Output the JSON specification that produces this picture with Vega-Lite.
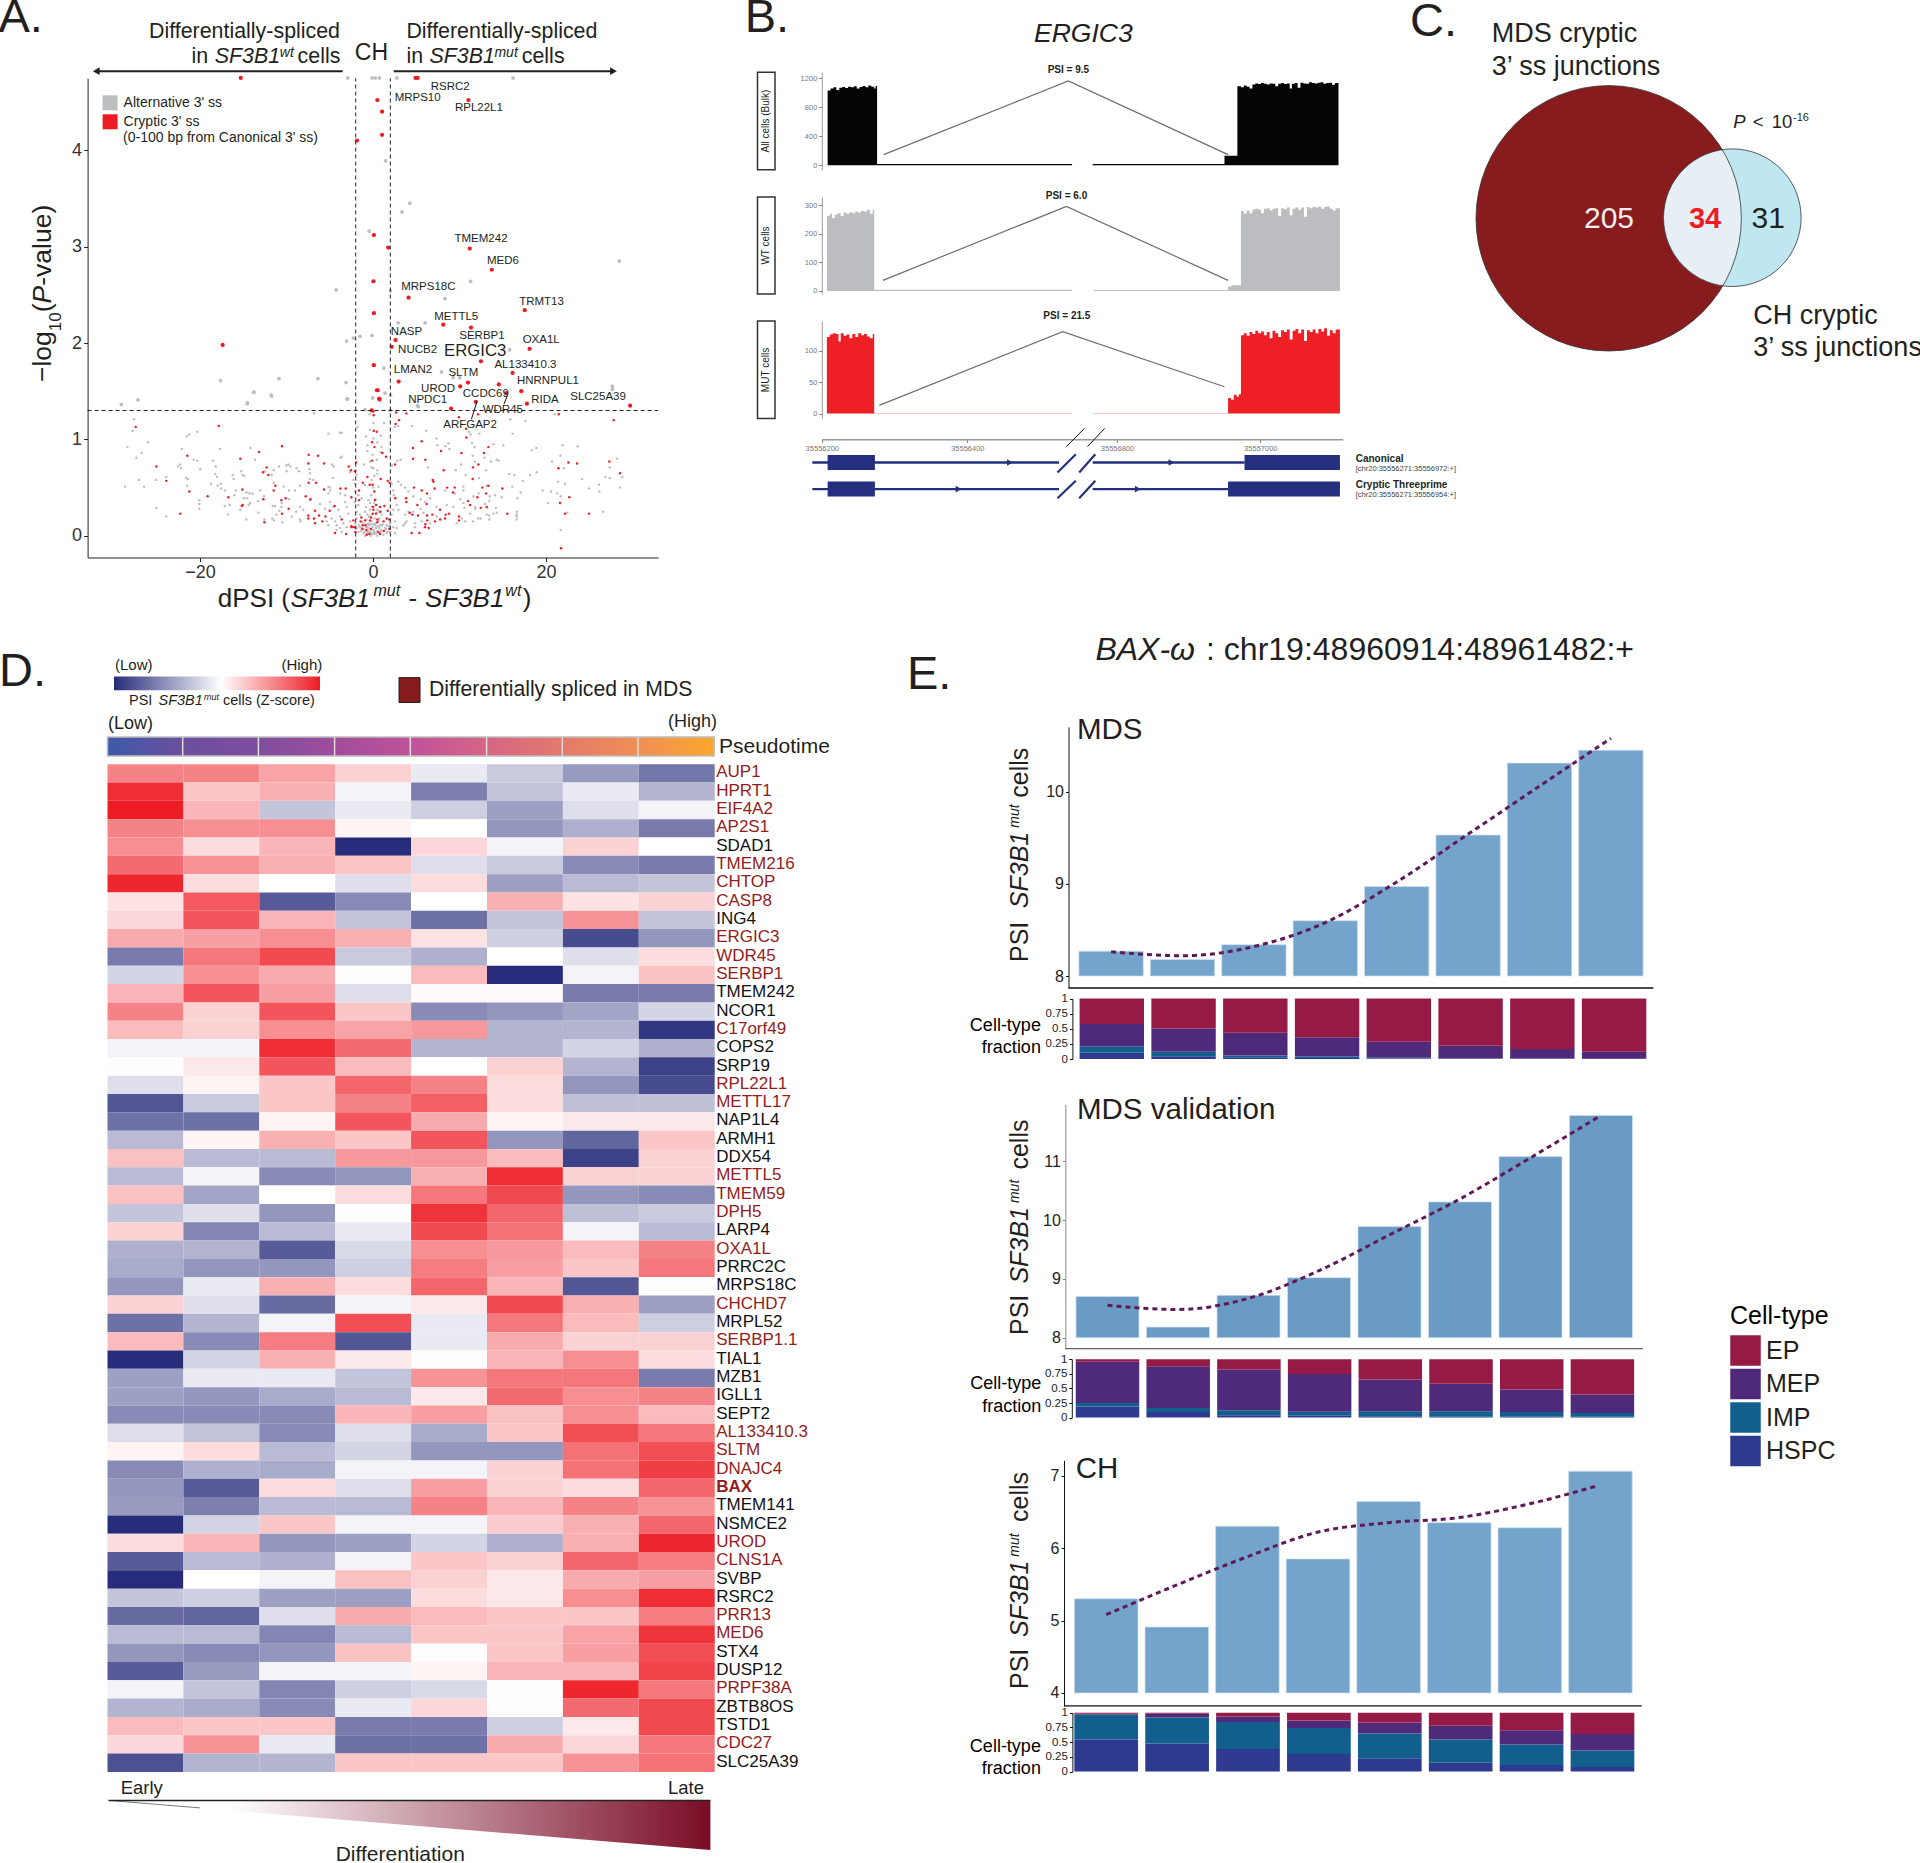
{"$schema":"https://vega.github.io/schema/vega-lite/v6.json","background":"white","padding":0,"width":1920,"height":1863,"autosize":{"type":"none"},
"config":{"font":"Liberation Sans","view":{"stroke":null},"axis":{"grid":false,"titleFontWeight":"normal"},"text":{"color":"#231f20"}},
"datasets":{
"alt":[{"x":-2.91,"y":4.75},{"x":-0.1,"y":4.75},{"x":0.25,"y":4.75},{"x":0.75,"y":4.75},{"x":2.76,"y":4.75},{"x":16.19,"y":4.75},{"x":1.45,"y":3.89},{"x":4.26,"y":3.45},{"x":3.36,"y":3.36},{"x":28.47,"y":2.85},{"x":-0.45,"y":3.16},{"x":2.0,"y":2.54},{"x":11.28,"y":2.64},{"x":8.32,"y":2.46},{"x":-4.26,"y":2.55},{"x":2.91,"y":2.21},{"x":6.02,"y":2.21},{"x":-0.1,"y":2.08},{"x":-3.06,"y":2.02},{"x":-1.5,"y":2.07},{"x":-2.26,"y":2.05},{"x":15.79,"y":1.93},{"x":1.25,"y":1.74},{"x":7.92,"y":1.7},{"x":9.27,"y":1.64},{"x":10.03,"y":1.64},{"x":5.26,"y":1.34},{"x":-17.64,"y":1.61},{"x":-10.88,"y":1.63},{"x":-6.37,"y":1.63},{"x":-13.78,"y":1.49},{"x":-11.78,"y":1.46},{"x":-14.54,"y":1.37},{"x":-3.11,"y":1.59},{"x":-3.01,"y":1.42},{"x":27.67,"y":1.55},{"x":27.67,"y":1.52},{"x":-0.4,"y":1.26},
{"x":-29.1,"y":1.36},{"x":-27.17,"y":1.41},{"x":-27.63,"y":1.21},{"x":-27.79,"y":1.09},{"x":-28.4,"y":0.92},{"x":-26.0,"y":0.97},{"x":-26.75,"y":0.86},{"x":-27.36,"y":0.81},{"x":-21.54,"y":1.03},{"x":-21.27,"y":1.05},{"x":-20.31,"y":1.08},{"x":-22.08,"y":0.9},{"x":-22.31,"y":0.74},{"x":-22.55,"y":0.72},{"x":-22.2,"y":0.7},{"x":-23.9,"y":0.61},{"x":-27.05,"y":0.58},{"x":-25.05,"y":0.58},{"x":-28.67,"y":0.51},{"x":-26.48,"y":0.51},{"x":-21.62,"y":0.6},{"x":-21.39,"y":0.59},{"x":-21.5,"y":0.52},{"x":-20.73,"y":0.79},{"x":-20.31,"y":0.78},{"x":-19.96,"y":0.69},{"x":-18.5,"y":0.78},{"x":-18.19,"y":0.72},{"x":-18.23,"y":0.64},{"x":-18.04,"y":0.61},{"x":-17.69,"y":0.9},{"x":-18.73,"y":0.54},{"x":-17.96,"y":0.52},{"x":-17.61,"y":0.54},{"x":-17.57,"y":0.49},{"x":-17.11,"y":0.47},{"x":-20.08,"y":0.37},{"x":-20.08,"y":0.33},{"x":-20.08,"y":0.28},{"x":-25.05,"y":0.29},{"x":-23.9,"y":0.2},{"x":-17.15,"y":0.31},{"x":-16.57,"y":0.32},{"x":-16.76,"y":0.22},{"x":-16.23,"y":0.63},{"x":-16.11,"y":0.59},{"x":-16.03,"y":0.42},{"x":-15.84,"y":0.47},{"x":-15.26,"y":0.67},{"x":-15.07,"y":0.63},{"x":-14.88,"y":0.62},{"x":-14.91,"y":0.39},{"x":-14.53,"y":0.39},{"x":-14.61,"y":0.45},{"x":-14.3,"y":0.44},{"x":-13.95,"y":0.44},{"x":-14.22,"y":0.34},{"x":-14.37,"y":0.32},{"x":-15.34,"y":0.27},{"x":-14.65,"y":0.17},{"x":-14.18,"y":0.91},{"x":-13.64,"y":0.79},{"x":-13.06,"y":0.47},{"x":-13.3,"y":0.36},{"x":-12.6,"y":0.41},{"x":-13.26,"y":0.24},{"x":-12.56,"y":0.17},{"x":-11.64,"y":0.18},{"x":-11.45,"y":0.16},{"x":-10.48,"y":0.14},{"x":-11.6,"y":0.31},{"x":-11.33,"y":0.31},{"x":-10.83,"y":0.26},{"x":-10.6,"y":0.3},{"x":-10.56,"y":0.34},{"x":-11.18,"y":0.22},{"x":-9.71,"y":0.38},{"x":-10.33,"y":0.51},{"x":-9.71,"y":0.47},{"x":-11.48,"y":0.55},{"x":-11.72,"y":0.63},{"x":-12.49,"y":0.67},{"x":-11.48,"y":0.68},{"x":-10.87,"y":0.72},{"x":-10.02,"y":0.73},{"x":-9.79,"y":0.74},{"x":-9.98,"y":0.67},{"x":-14.53,"y":1.38},{"x":-13.8,"y":1.49},{"x":-11.72,"y":1.45},
{"x":-2.93,"y":1.42},{"x":1.39,"y":1.48},{"x":2.04,"y":1.46},{"x":0.81,"y":1.4},{"x":-0.04,"y":1.43},{"x":-0.92,"y":1.31},{"x":-6.82,"y":1.27},{"x":2.0,"y":1.3},{"x":5.13,"y":1.35},{"x":0.04,"y":1.17},{"x":1.27,"y":1.17},{"x":-5.16,"y":1.06},{"x":-3.81,"y":1.07},{"x":-3.62,"y":1.07},{"x":-1.77,"y":1.13},{"x":-0.35,"y":1.1},{"x":-0.81,"y":1.03},{"x":0.04,"y":1.01},{"x":0.89,"y":1.04},{"x":4.51,"y":1.14},{"x":6.13,"y":1.09},{"x":2.54,"y":1.13},{"x":2.93,"y":1.14},{"x":7.36,"y":1.01},{"x":7.44,"y":0.94},{"x":8.36,"y":0.93},{"x":8.71,"y":0.96},{"x":8.83,"y":0.9},{"x":11.45,"y":0.96},{"x":11.72,"y":0.92},{"x":-0.65,"y":0.94},{"x":-0.65,"y":0.88},{"x":0.5,"y":0.97},{"x":0.97,"y":0.92},{"x":0.89,"y":0.87},{"x":-0.04,"y":0.84},{"x":0.43,"y":0.79},{"x":-0.35,"y":0.77},{"x":-1.04,"y":0.74},{"x":-3.62,"y":0.82},{"x":-3.74,"y":0.81},{"x":-4.74,"y":0.74},{"x":-4.55,"y":0.72},{"x":-2.66,"y":0.66},{"x":-1.89,"y":0.63},{"x":-0.19,"y":0.71},{"x":0.5,"y":0.68},{"x":0.5,"y":0.64},{"x":3.2,"y":0.79},{"x":2.81,"y":0.78},{"x":2.16,"y":0.73},{"x":6.36,"y":0.71},{"x":9.56,"y":0.68},{"x":13.07,"y":0.68},{"x":-9.56,"y":0.72},{"x":-8.82,"y":0.7},{"x":-7.36,"y":0.69},{"x":-7.28,"y":0.65},{"x":-7.32,"y":0.59},{"x":-8.55,"y":0.67},{"x":-9.02,"y":0.47},{"x":-8.44,"y":0.52},{"x":-5.16,"y":0.51},{"x":-4.97,"y":0.5},{"x":-6.9,"y":0.58},{"x":-4.66,"y":0.6},{"x":-2.27,"y":0.58},{"x":-2.08,"y":0.54},{"x":-0.92,"y":0.53},{"x":0.62,"y":0.51},{"x":2.16,"y":0.54},{"x":2.35,"y":0.47},{"x":2.43,"y":0.42},{"x":3.24,"y":0.53},{"x":3.7,"y":0.5},{"x":4.09,"y":0.46},{"x":2.93,"y":0.56},{"x":4.66,"y":0.41},{"x":5.51,"y":0.38},{"x":6.01,"y":0.35},{"x":6.59,"y":0.39},{"x":8.33,"y":0.47},{"x":9.48,"y":0.44},{"x":10.45,"y":0.51},{"x":-5.16,"y":0.44},{"x":-4.97,"y":0.47},{"x":-3.81,"y":0.44},{"x":-3.23,"y":0.42},{"x":-4.97,"y":0.35},{"x":-3.23,"y":0.35},{"x":-2.08,"y":0.46},{"x":-1.7,"y":0.42},{"x":-8.44,"y":0.3},{"x":-8.05,"y":0.27},{"x":-8.9,"y":0.25},{"x":-9.4,"y":0.2},{"x":-8.36,"y":0.15},{"x":-8.44,"y":0.17},{"x":-7.28,"y":0.37},{"x":-6.13,"y":0.33},{"x":-5.55,"y":0.28},{"x":-4.58,"y":0.3},{"x":-4.0,"y":0.27},{"x":-3.04,"y":0.3},{"x":-2.08,"y":0.35},{"x":-1.31,"y":0.39},{"x":-0.54,"y":0.37},{"x":-0.35,"y":0.34},{"x":-0.81,"y":0.3},{"x":-0.92,"y":0.25},{"x":-1.7,"y":0.32},{"x":-1.89,"y":0.25},{"x":-2.85,"y":0.23},{"x":-3.81,"y":0.2},{"x":-4.78,"y":0.18},{"x":-5.36,"y":0.15},{"x":-5.16,"y":0.11},{"x":-4.39,"y":0.15},{"x":-4.2,"y":0.11},{"x":-3.81,"y":0.08},{"x":-3.43,"y":0.13},{"x":-3.04,"y":0.09},{"x":-2.66,"y":0.15},{"x":-1.89,"y":0.18},{"x":-1.5,"y":0.22},{"x":-0.35,"y":0.27},{"x":0.12,"y":0.34},{"x":0.5,"y":0.27},{"x":1.0,"y":0.22},{"x":0.73,"y":0.18},{"x":-0.15,"y":0.15},{"x":-0.54,"y":0.13},{"x":0.23,"y":0.11},{"x":1.0,"y":0.11},{"x":1.58,"y":0.11},{"x":1.97,"y":0.13},{"x":2.54,"y":0.15},{"x":2.35,"y":0.09},{"x":2.74,"y":0.08},{"x":1.97,"y":0.04},{"x":2.54,"y":0.03},{"x":1.58,"y":0.03},{"x":1.2,"y":0.01},{"x":0.23,"y":0.02},{"x":-0.15,"y":0.03},{"x":-1.12,"y":0.03},{"x":-1.7,"y":0.04},{"x":-1.89,"y":0.08},{"x":-1.5,"y":0.09},{"x":-0.73,"y":0.09},{"x":-0.35,"y":0.04},{"x":0.04,"y":0.06},{"x":0.35,"y":0.08},{"x":0.73,"y":0.08},{"x":-0.54,"y":0.08},{"x":-0.92,"y":0.04},{"x":0.5,"y":0.0},{"x":-0.92,"y":0.0},{"x":-4.2,"y":0.06},{"x":-3.62,"y":0.04},{"x":3.7,"y":0.13},{"x":3.89,"y":0.15},{"x":3.51,"y":0.11},{"x":4.86,"y":0.13},{"x":4.86,"y":0.09},{"x":5.63,"y":0.15},{"x":6.59,"y":0.13},{"x":4.09,"y":0.25},{"x":4.66,"y":0.25},{"x":5.51,"y":0.28},{"x":5.82,"y":0.24},{"x":3.7,"y":0.22},{"x":2.74,"y":0.32},{"x":2.93,"y":0.27},{"x":2.35,"y":0.27},{"x":2.16,"y":0.22},{"x":9.68,"y":0.13},{"x":10.64,"y":0.15},{"x":10.25,"y":0.18},{"x":11.22,"y":0.23},{"x":11.8,"y":0.3},{"x":8.52,"y":0.32},{"x":9.29,"y":0.3},{"x":7.36,"y":0.3},{"x":7.36,"y":0.2},{"x":10.45,"y":0.34},{"x":12.18,"y":0.18},{"x":13.14,"y":0.22},{"x":11.6,"y":0.41},{"x":10.45,"y":0.47},{"x":-0.42,"y":0.11},{"x":-0.04,"y":0.09},{"x":-0.27,"y":0.0},{"x":0.12,"y":0.03},{"x":-0.65,"y":0.03},{"x":0.5,"y":0.05},{"x":0.89,"y":0.04},{"x":1.39,"y":0.08},{"x":-1.31,"y":0.08},{"x":-2.08,"y":0.13},
{"x":-1.4,"y":0.05},{"x":-1.1,"y":0.07},{"x":-0.95,"y":0.12},{"x":-0.6,"y":0.05},{"x":-0.5,"y":0.12},{"x":-0.3,"y":0.07},{"x":-0.2,"y":0.12},{"x":-0.1,"y":0.02},{"x":0.05,"y":0.12},{"x":0.15,"y":0.05},{"x":0.3,"y":0.13},{"x":0.4,"y":0.03},{"x":0.55,"y":0.1},{"x":0.65,"y":0.16},{"x":0.8,"y":0.11},{"x":0.95,"y":0.06},{"x":1.1,"y":0.12},{"x":1.3,"y":0.05},{"x":1.5,"y":0.07},{"x":1.7,"y":0.04},{"x":1.85,"y":0.1},{"x":-1.65,"y":0.11},{"x":-1.25,"y":0.14},{"x":-0.75,"y":0.17},{"x":-0.45,"y":0.2},{"x":-0.1,"y":0.22},{"x":0.2,"y":0.18},{"x":0.4,"y":0.24},{"x":0.7,"y":0.25},{"x":-0.65,"y":0.22},{"x":0.1,"y":0.3},{"x":0.3,"y":0.38},{"x":-0.2,"y":0.42},{"x":0.0,"y":0.5},{"x":0.15,"y":0.62},{"x":-0.15,"y":0.58},{"x":0.05,"y":0.7},
{"x":21.04,"y":1.26},{"x":15.88,"y":1.21},{"x":17.61,"y":1.19},{"x":16.15,"y":1.06},{"x":13.91,"y":0.95},{"x":15.07,"y":0.94},{"x":11.52,"y":0.83},{"x":11.76,"y":0.77},{"x":12.91,"y":0.81},{"x":13.64,"y":0.77},{"x":14.3,"y":0.79},{"x":14.53,"y":0.78},{"x":18.35,"y":0.89},{"x":18.89,"y":0.91},{"x":21.93,"y":0.94},{"x":23.66,"y":0.93},{"x":21.66,"y":0.83},{"x":20.7,"y":0.77},{"x":22.05,"y":0.7},{"x":15.76,"y":0.64},{"x":16.34,"y":0.63},{"x":18.15,"y":0.63},{"x":18.92,"y":0.66},{"x":12.26,"y":0.6},{"x":10.72,"y":0.63},{"x":10.18,"y":0.74},{"x":17.31,"y":0.57},{"x":16.11,"y":0.51},{"x":17.07,"y":0.45},{"x":19.62,"y":0.47},{"x":20.58,"y":0.46},{"x":21.31,"y":0.44},{"x":21.39,"y":0.56},{"x":22.2,"y":0.54},{"x":21.7,"y":0.41},{"x":20.2,"y":0.34},{"x":16.69,"y":0.39},{"x":14.88,"y":0.4},{"x":14.11,"y":0.42},{"x":13.49,"y":0.41},{"x":12.22,"y":0.44},{"x":13.14,"y":0.52},{"x":12.95,"y":0.33},{"x":13.45,"y":0.36},{"x":13.22,"y":0.29},{"x":14.22,"y":0.29},{"x":13.91,"y":0.23},{"x":14.3,"y":0.24},{"x":13.41,"y":0.21},{"x":13.45,"y":0.17},{"x":12.45,"y":0.18},{"x":11.56,"y":0.15},{"x":11.83,"y":0.28},{"x":10.56,"y":0.29},{"x":10.1,"y":0.38},{"x":16.61,"y":0.25},{"x":16.61,"y":0.22},{"x":16.61,"y":0.2},{"x":16.61,"y":0.17},{"x":21.7,"y":0.06},{"x":22.47,"y":0.24},{"x":24.17,"y":0.59},{"x":24.97,"y":0.49},{"x":26.13,"y":0.53},{"x":26.17,"y":0.46},{"x":26.86,"y":0.61},{"x":27.36,"y":0.6},{"x":27.36,"y":0.71},{"x":28.21,"y":0.8},{"x":28.83,"y":0.61},{"x":28.56,"y":0.5},{"x":26.63,"y":0.25},{"x":12.3,"y":1.06},{"x":11.29,"y":1.05},{"x":11.1,"y":1.08}],
"cry":[{"x":-15.29,"y":4.75},{"x":4.91,"y":4.75},{"x":5.16,"y":4.75},{"x":0.5,"y":4.52},{"x":11.03,"y":4.52},{"x":1.05,"y":4.4},{"x":1.05,"y":4.16},{"x":-1.85,"y":4.1},{"x":0.1,"y":3.12},{"x":1.75,"y":2.99},{"x":11.18,"y":2.98},{"x":13.73,"y":2.76},{"x":0.05,"y":2.64},{"x":4.11,"y":2.47},{"x":17.54,"y":2.34},{"x":8.12,"y":2.19},{"x":11.33,"y":2.16},{"x":0.1,"y":2.31},{"x":2.61,"y":2.03},{"x":2.16,"y":1.96},{"x":18.1,"y":1.94},{"x":-17.39,"y":1.98},{"x":12.48,"y":1.81},{"x":0.1,"y":1.77},{"x":16.14,"y":1.69},{"x":2.96,"y":1.6},{"x":10.98,"y":1.59},{"x":10.08,"y":1.55},{"x":14.54,"y":1.57},{"x":15.39,"y":1.48},{"x":0.45,"y":1.51},{"x":0.75,"y":1.42},{"x":17.14,"y":1.5},{"x":17.79,"y":1.37},{"x":11.88,"y":1.39},{"x":9.02,"y":1.32},{"x":29.72,"y":1.35},{"x":-0.15,"y":1.3},
{"x":-27.44,"y":1.13},{"x":-17.84,"y":1.14},{"x":-10.52,"y":0.93},{"x":-13.18,"y":0.87},{"x":-21.47,"y":0.83},{"x":-15.34,"y":0.8},{"x":-25.05,"y":0.72},{"x":-12.29,"y":0.71},{"x":-12.72,"y":0.66},{"x":-12.1,"y":0.63},{"x":-23.9,"y":0.57},{"x":-11.29,"y":0.52},{"x":-11.48,"y":0.47},{"x":-21.24,"y":0.46},{"x":-15.11,"y":0.48},{"x":-19.12,"y":0.41},{"x":-16.73,"y":0.4},{"x":-12.68,"y":0.38},{"x":-10.1,"y":0.39},{"x":-10.6,"y":0.37},{"x":-15.07,"y":0.32},{"x":-15.18,"y":0.31},{"x":-9.75,"y":0.28},{"x":-10.52,"y":0.23},{"x":-22.28,"y":0.23},{"x":-12.56,"y":0.14},
{"x":0.54,"y":1.51},{"x":0.7,"y":1.42},{"x":0.04,"y":1.29},{"x":2.66,"y":1.28},{"x":3.86,"y":1.27},{"x":3.01,"y":1.2},{"x":2.62,"y":1.16},{"x":0.08,"y":1.25},{"x":9.94,"y":1.23},{"x":10.79,"y":1.02},{"x":5.63,"y":0.98},{"x":-0.11,"y":0.97},{"x":0.08,"y":1.09},{"x":0.43,"y":1.08},{"x":4.63,"y":0.91},{"x":7.86,"y":0.88},{"x":10.22,"y":0.86},{"x":12.83,"y":0.86},{"x":4.63,"y":0.8},{"x":6.05,"y":0.79},{"x":11.56,"y":0.71},{"x":-7.44,"y":0.84},{"x":-6.36,"y":0.83},{"x":-7.48,"y":0.75},{"x":-5.66,"y":0.75},{"x":-2.81,"y":0.72},{"x":-2.54,"y":0.68},{"x":-2.08,"y":0.67},{"x":-1.96,"y":0.76},{"x":0.16,"y":0.92},{"x":1.08,"y":0.86},{"x":1.5,"y":0.82},{"x":-0.11,"y":0.78},{"x":2.54,"y":0.74},{"x":8.17,"y":0.68},{"x":-0.65,"y":0.61},{"x":0.89,"y":0.59},{"x":1.7,"y":0.57},{"x":6.9,"y":0.58},{"x":6.98,"y":0.56},{"x":1.93,"y":0.55},{"x":-1.19,"y":0.55},{"x":-0.38,"y":0.53},{"x":-0.04,"y":0.53},{"x":-1.62,"y":0.47},{"x":-3.77,"y":0.49},{"x":-3.16,"y":0.49},{"x":-5.66,"y":0.48},{"x":-7.44,"y":0.55},{"x":-6.59,"y":0.55},{"x":4.74,"y":0.5},{"x":5.63,"y":0.47},{"x":7.13,"y":0.49},{"x":8.56,"y":0.5},{"x":9.44,"y":0.5},{"x":6.24,"y":0.44},{"x":9.25,"y":0.45},{"x":12.64,"y":0.5},{"x":11.52,"y":0.59},{"x":-2.5,"y":0.4},{"x":-7.78,"y":0.41},{"x":-7.24,"y":0.38},{"x":-4.43,"y":0.31},{"x":-1.62,"y":0.37},{"x":0.16,"y":0.46},{"x":2.58,"y":0.39},{"x":3.82,"y":0.39},{"x":3.86,"y":0.35},{"x":5.13,"y":0.32},{"x":6.21,"y":0.33},{"x":7.75,"y":0.27},{"x":10.99,"y":0.36},{"x":12.07,"y":0.4},{"x":13.07,"y":0.44},{"x":11.22,"y":0.32},{"x":12.45,"y":0.29},{"x":13.14,"y":0.3},{"x":-6.7,"y":0.26},{"x":-7.48,"y":0.21},{"x":-7.48,"y":0.18},{"x":-6.82,"y":0.18},{"x":-6.7,"y":0.13},{"x":-6.24,"y":0.21},{"x":-5.51,"y":0.2},{"x":-5.86,"y":0.15},{"x":-3.62,"y":0.17},{"x":-5.01,"y":0.26},{"x":-2.27,"y":0.16},{"x":-1.35,"y":0.19},{"x":-0.23,"y":0.19},{"x":0.85,"y":0.25},{"x":0.23,"y":0.37},{"x":-0.04,"y":0.3},{"x":0.04,"y":0.27},{"x":0.81,"y":0.3},{"x":1.31,"y":0.31},{"x":1.7,"y":0.26},{"x":1.58,"y":0.18},{"x":1.89,"y":0.17},{"x":0.35,"y":0.32},{"x":-0.04,"y":0.23},{"x":0.35,"y":0.23},{"x":-0.92,"y":0.16},{"x":-1.42,"y":0.15},{"x":-1.19,"y":0.11},{"x":-0.85,"y":0.11},{"x":-0.35,"y":0.16},{"x":0.5,"y":0.14},{"x":0.5,"y":0.17},{"x":1.23,"y":0.15},{"x":-2.5,"y":0.1},{"x":-2.2,"y":0.09},{"x":-2.47,"y":0.09},{"x":-1.23,"y":0.07},{"x":-0.77,"y":0.06},{"x":-0.23,"y":0.07},{"x":-0.42,"y":0.02},{"x":-0.73,"y":0.01},{"x":0.62,"y":0.04},{"x":1.23,"y":0.05},{"x":0.81,"y":0.02},{"x":1.89,"y":0.07},{"x":-4.39,"y":0.03},{"x":-3.12,"y":0.02},{"x":-2.04,"y":0.04},{"x":4.47,"y":0.03},{"x":5.36,"y":0.03},{"x":6.05,"y":0.12},{"x":6.01,"y":0.09},{"x":6.44,"y":0.08},{"x":7.17,"y":0.15},{"x":6.24,"y":0.21},{"x":6.28,"y":0.16},{"x":4.55,"y":0.22},{"x":5.2,"y":0.21},{"x":8.4,"y":0.22},{"x":8.33,"y":0.18},{"x":8.79,"y":0.23},{"x":9.94,"y":0.2},{"x":9.94,"y":0.16},{"x":7.75,"y":0.17},{"x":4.24,"y":0.24},{"x":6.86,"y":0.22},
{"x":12.14,"y":1.26},{"x":21.47,"y":1.26},{"x":27.83,"y":1.2},{"x":10.75,"y":1.11},{"x":13.34,"y":0.92},{"x":12.18,"y":0.74},{"x":13.34,"y":0.52},{"x":14.95,"y":0.49},{"x":21.43,"y":0.7},{"x":22.59,"y":0.76},{"x":23.59,"y":0.75},{"x":27.33,"y":0.77},{"x":28.56,"y":0.65},{"x":22.7,"y":0.4},{"x":21.62,"y":0.34},{"x":22.2,"y":0.23},{"x":24.97,"y":0.23},{"x":15.53,"y":0.23},{"x":21.74,"y":-0.13}],
"heat":[
{"g":"AUP1","t":1,"v":1.1},{"g":"AUP1","t":2,"v":1.1},{"g":"AUP1","t":3,"v":0.8},{"g":"AUP1","t":4,"v":0.4},{"g":"AUP1","t":5,"v":-0.2},{"g":"AUP1","t":6,"v":-0.5},{"g":"AUP1","t":7,"v":-0.95},{"g":"AUP1","t":8,"v":-1.3},
{"g":"HPRT1","t":1,"v":1.85},{"g":"HPRT1","t":2,"v":0.5},{"g":"HPRT1","t":3,"v":0.7},{"g":"HPRT1","t":4,"v":-0.1},{"g":"HPRT1","t":5,"v":-1.2},{"g":"HPRT1","t":6,"v":-0.55},{"g":"HPRT1","t":7,"v":-0.2},{"g":"HPRT1","t":8,"v":-0.7},
{"g":"EIF4A2","t":1,"v":2},{"g":"EIF4A2","t":2,"v":0.65},{"g":"EIF4A2","t":3,"v":-0.55},{"g":"EIF4A2","t":4,"v":-0.2},{"g":"EIF4A2","t":5,"v":-0.45},{"g":"EIF4A2","t":6,"v":-0.9},{"g":"EIF4A2","t":7,"v":-0.3},{"g":"EIF4A2","t":8,"v":-0.1},
{"g":"AP2S1","t":1,"v":1.1},{"g":"AP2S1","t":2,"v":1.0},{"g":"AP2S1","t":3,"v":1.0},{"g":"AP2S1","t":4,"v":0.1},{"g":"AP2S1","t":5,"v":0},{"g":"AP2S1","t":6,"v":-1},{"g":"AP2S1","t":7,"v":-0.75},{"g":"AP2S1","t":8,"v":-1.25},
{"g":"SDAD1","t":1,"v":1.0},{"g":"SDAD1","t":2,"v":0.3},{"g":"SDAD1","t":3,"v":0.65},{"g":"SDAD1","t":4,"v":-2},{"g":"SDAD1","t":5,"v":0.35},{"g":"SDAD1","t":6,"v":-0.1},{"g":"SDAD1","t":7,"v":0.4},{"g":"SDAD1","t":8,"v":0},
{"g":"TMEM216","t":1,"v":1.3},{"g":"TMEM216","t":2,"v":0.95},{"g":"TMEM216","t":3,"v":0.7},{"g":"TMEM216","t":4,"v":0.5},{"g":"TMEM216","t":5,"v":-0.3},{"g":"TMEM216","t":6,"v":-0.5},{"g":"TMEM216","t":7,"v":-1.1},{"g":"TMEM216","t":8,"v":-1.25},
{"g":"CHTOP","t":1,"v":1.9},{"g":"CHTOP","t":2,"v":0.3},{"g":"CHTOP","t":3,"v":0},{"g":"CHTOP","t":4,"v":-0.3},{"g":"CHTOP","t":5,"v":0.3},{"g":"CHTOP","t":6,"v":-0.9},{"g":"CHTOP","t":7,"v":-0.65},{"g":"CHTOP","t":8,"v":-0.55},
{"g":"CASP8","t":1,"v":0.25},{"g":"CASP8","t":2,"v":1.45},{"g":"CASP8","t":3,"v":-1.55},{"g":"CASP8","t":4,"v":-1.1},{"g":"CASP8","t":5,"v":0},{"g":"CASP8","t":6,"v":0.7},{"g":"CASP8","t":7,"v":0.25},{"g":"CASP8","t":8,"v":0.4},
{"g":"ING4","t":1,"v":0.35},{"g":"ING4","t":2,"v":1.5},{"g":"ING4","t":3,"v":0.65},{"g":"ING4","t":4,"v":-0.55},{"g":"ING4","t":5,"v":-1.35},{"g":"ING4","t":6,"v":-0.55},{"g":"ING4","t":7,"v":0.95},{"g":"ING4","t":8,"v":-0.55},
{"g":"ERGIC3","t":1,"v":0.75},{"g":"ERGIC3","t":2,"v":0.85},{"g":"ERGIC3","t":3,"v":1.0},{"g":"ERGIC3","t":4,"v":0.7},{"g":"ERGIC3","t":5,"v":0.25},{"g":"ERGIC3","t":6,"v":-0.45},{"g":"ERGIC3","t":7,"v":-1.7},{"g":"ERGIC3","t":8,"v":-1.0},
{"g":"WDR45","t":1,"v":-1.25},{"g":"WDR45","t":2,"v":1.2},{"g":"WDR45","t":3,"v":1.6},{"g":"WDR45","t":4,"v":-0.5},{"g":"WDR45","t":5,"v":-0.75},{"g":"WDR45","t":6,"v":0},{"g":"WDR45","t":7,"v":-0.3},{"g":"WDR45","t":8,"v":0.3},
{"g":"SERBP1","t":1,"v":-0.4},{"g":"SERBP1","t":2,"v":1.0},{"g":"SERBP1","t":3,"v":0.75},{"g":"SERBP1","t":4,"v":0.03},{"g":"SERBP1","t":5,"v":0.6},{"g":"SERBP1","t":6,"v":-2},{"g":"SERBP1","t":7,"v":-0.1},{"g":"SERBP1","t":8,"v":0.55},
{"g":"TMEM242","t":1,"v":0.65},{"g":"TMEM242","t":2,"v":1.5},{"g":"TMEM242","t":3,"v":0.85},{"g":"TMEM242","t":4,"v":-0.3},{"g":"TMEM242","t":5,"v":0.05},{"g":"TMEM242","t":6,"v":0.05},{"g":"TMEM242","t":7,"v":-1.25},{"g":"TMEM242","t":8,"v":-1.25},
{"g":"NCOR1","t":1,"v":1.1},{"g":"NCOR1","t":2,"v":0.4},{"g":"NCOR1","t":3,"v":1.5},{"g":"NCOR1","t":4,"v":0.5},{"g":"NCOR1","t":5,"v":-1.1},{"g":"NCOR1","t":6,"v":-1.0},{"g":"NCOR1","t":7,"v":-0.85},{"g":"NCOR1","t":8,"v":-0.4},
{"g":"C17orf49","t":1,"v":0.6},{"g":"C17orf49","t":2,"v":0.4},{"g":"C17orf49","t":3,"v":1.0},{"g":"C17orf49","t":4,"v":0.8},{"g":"C17orf49","t":5,"v":0.9},{"g":"C17orf49","t":6,"v":-0.7},{"g":"C17orf49","t":7,"v":-0.7},{"g":"C17orf49","t":8,"v":-1.9},
{"g":"COPS2","t":1,"v":-0.1},{"g":"COPS2","t":2,"v":-0.1},{"g":"COPS2","t":3,"v":1.85},{"g":"COPS2","t":4,"v":1.3},{"g":"COPS2","t":5,"v":-0.7},{"g":"COPS2","t":6,"v":-0.7},{"g":"COPS2","t":7,"v":-0.4},{"g":"COPS2","t":8,"v":-0.75},
{"g":"SRP19","t":1,"v":0.02},{"g":"SRP19","t":2,"v":0.2},{"g":"SRP19","t":3,"v":1.5},{"g":"SRP19","t":4,"v":0.6},{"g":"SRP19","t":5,"v":0},{"g":"SRP19","t":6,"v":0.4},{"g":"SRP19","t":7,"v":-0.7},{"g":"SRP19","t":8,"v":-1.8},
{"g":"RPL22L1","t":1,"v":-0.3},{"g":"RPL22L1","t":2,"v":0.1},{"g":"RPL22L1","t":3,"v":0.5},{"g":"RPL22L1","t":4,"v":1.35},{"g":"RPL22L1","t":5,"v":1.1},{"g":"RPL22L1","t":6,"v":0.3},{"g":"RPL22L1","t":7,"v":-1.0},{"g":"RPL22L1","t":8,"v":-1.7},
{"g":"METTL17","t":1,"v":-1.6},{"g":"METTL17","t":2,"v":-0.5},{"g":"METTL17","t":3,"v":0.5},{"g":"METTL17","t":4,"v":1.1},{"g":"METTL17","t":5,"v":1.4},{"g":"METTL17","t":6,"v":0.3},{"g":"METTL17","t":7,"v":-0.6},{"g":"METTL17","t":8,"v":-0.6},
{"g":"NAP1L4","t":1,"v":-1.35},{"g":"NAP1L4","t":2,"v":-1.35},{"g":"NAP1L4","t":3,"v":0.1},{"g":"NAP1L4","t":4,"v":1.5},{"g":"NAP1L4","t":5,"v":0.75},{"g":"NAP1L4","t":6,"v":0.1},{"g":"NAP1L4","t":7,"v":0.2},{"g":"NAP1L4","t":8,"v":0.2},
{"g":"ARMH1","t":1,"v":-0.65},{"g":"ARMH1","t":2,"v":0.1},{"g":"ARMH1","t":3,"v":0.7},{"g":"ARMH1","t":4,"v":0.5},{"g":"ARMH1","t":5,"v":1.5},{"g":"ARMH1","t":6,"v":-1.0},{"g":"ARMH1","t":7,"v":-1.45},{"g":"ARMH1","t":8,"v":0.5},
{"g":"DDX54","t":1,"v":0.55},{"g":"DDX54","t":2,"v":-0.65},{"g":"DDX54","t":3,"v":-0.65},{"g":"DDX54","t":4,"v":0.9},{"g":"DDX54","t":5,"v":0.9},{"g":"DDX54","t":6,"v":0.6},{"g":"DDX54","t":7,"v":-1.8},{"g":"DDX54","t":8,"v":0.4},
{"g":"METTL5","t":1,"v":-0.65},{"g":"METTL5","t":2,"v":-0.1},{"g":"METTL5","t":3,"v":-1.1},{"g":"METTL5","t":4,"v":-1.0},{"g":"METTL5","t":5,"v":0.7},{"g":"METTL5","t":6,"v":1.85},{"g":"METTL5","t":7,"v":0.4},{"g":"METTL5","t":8,"v":0.4},
{"g":"TMEM59","t":1,"v":0.55},{"g":"TMEM59","t":2,"v":-0.85},{"g":"TMEM59","t":3,"v":0},{"g":"TMEM59","t":4,"v":0.3},{"g":"TMEM59","t":5,"v":1.2},{"g":"TMEM59","t":6,"v":1.6},{"g":"TMEM59","t":7,"v":-1.0},{"g":"TMEM59","t":8,"v":-1.1},
{"g":"DPH5","t":1,"v":-0.55},{"g":"DPH5","t":2,"v":-0.3},{"g":"DPH5","t":3,"v":-1.0},{"g":"DPH5","t":4,"v":0.02},{"g":"DPH5","t":5,"v":1.8},{"g":"DPH5","t":6,"v":1.35},{"g":"DPH5","t":7,"v":-0.6},{"g":"DPH5","t":8,"v":-0.5},
{"g":"LARP4","t":1,"v":0.4},{"g":"LARP4","t":2,"v":-1.15},{"g":"LARP4","t":3,"v":-0.65},{"g":"LARP4","t":4,"v":-0.2},{"g":"LARP4","t":5,"v":1.6},{"g":"LARP4","t":6,"v":1.25},{"g":"LARP4","t":7,"v":-0.1},{"g":"LARP4","t":8,"v":-0.65},
{"g":"OXA1L","t":1,"v":-0.75},{"g":"OXA1L","t":2,"v":-0.7},{"g":"OXA1L","t":3,"v":-1.55},{"g":"OXA1L","t":4,"v":-0.35},{"g":"OXA1L","t":5,"v":1.0},{"g":"OXA1L","t":6,"v":0.9},{"g":"OXA1L","t":7,"v":0.6},{"g":"OXA1L","t":8,"v":1.1},
{"g":"PRRC2C","t":1,"v":-0.8},{"g":"PRRC2C","t":2,"v":-1.0},{"g":"PRRC2C","t":3,"v":-1.0},{"g":"PRRC2C","t":4,"v":-0.45},{"g":"PRRC2C","t":5,"v":1.15},{"g":"PRRC2C","t":6,"v":0.85},{"g":"PRRC2C","t":7,"v":0.5},{"g":"PRRC2C","t":8,"v":1.2},
{"g":"MRPS18C","t":1,"v":-1.0},{"g":"MRPS18C","t":2,"v":-0.2},{"g":"MRPS18C","t":3,"v":0.7},{"g":"MRPS18C","t":4,"v":0.3},{"g":"MRPS18C","t":5,"v":1.35},{"g":"MRPS18C","t":6,"v":0.65},{"g":"MRPS18C","t":7,"v":-1.6},{"g":"MRPS18C","t":8,"v":0.02},
{"g":"CHCHD7","t":1,"v":0.4},{"g":"CHCHD7","t":2,"v":-0.3},{"g":"CHCHD7","t":3,"v":-1.4},{"g":"CHCHD7","t":4,"v":-0.1},{"g":"CHCHD7","t":5,"v":0.2},{"g":"CHCHD7","t":6,"v":1.6},{"g":"CHCHD7","t":7,"v":0.7},{"g":"CHCHD7","t":8,"v":-0.9},
{"g":"MRPL52","t":1,"v":-1.35},{"g":"MRPL52","t":2,"v":-0.7},{"g":"MRPL52","t":3,"v":-0.1},{"g":"MRPL52","t":4,"v":1.55},{"g":"MRPL52","t":5,"v":-0.2},{"g":"MRPL52","t":6,"v":1.2},{"g":"MRPL52","t":7,"v":0.6},{"g":"MRPL52","t":8,"v":-0.45},
{"g":"SERBP1.1","t":1,"v":0.6},{"g":"SERBP1.1","t":2,"v":-1.1},{"g":"SERBP1.1","t":3,"v":1.15},{"g":"SERBP1.1","t":4,"v":-1.6},{"g":"SERBP1.1","t":5,"v":-0.2},{"g":"SERBP1.1","t":6,"v":0.75},{"g":"SERBP1.1","t":7,"v":0.4},{"g":"SERBP1.1","t":8,"v":0.4},
{"g":"TIAL1","t":1,"v":-2},{"g":"TIAL1","t":2,"v":-0.4},{"g":"TIAL1","t":3,"v":0.7},{"g":"TIAL1","t":4,"v":0.2},{"g":"TIAL1","t":5,"v":0.02},{"g":"TIAL1","t":6,"v":0.65},{"g":"TIAL1","t":7,"v":1.0},{"g":"TIAL1","t":8,"v":0.3},
{"g":"MZB1","t":1,"v":-0.9},{"g":"MZB1","t":2,"v":-0.2},{"g":"MZB1","t":3,"v":-0.2},{"g":"MZB1","t":4,"v":-0.55},{"g":"MZB1","t":5,"v":0.95},{"g":"MZB1","t":6,"v":1.2},{"g":"MZB1","t":7,"v":1.2},{"g":"MZB1","t":8,"v":-1.25},
{"g":"IGLL1","t":1,"v":-0.9},{"g":"IGLL1","t":2,"v":-1.0},{"g":"IGLL1","t":3,"v":-0.8},{"g":"IGLL1","t":4,"v":-0.65},{"g":"IGLL1","t":5,"v":0.2},{"g":"IGLL1","t":6,"v":1.3},{"g":"IGLL1","t":7,"v":1.0},{"g":"IGLL1","t":8,"v":1.1},
{"g":"SEPT2","t":1,"v":-1.1},{"g":"SEPT2","t":2,"v":-1.1},{"g":"SEPT2","t":3,"v":-1.1},{"g":"SEPT2","t":4,"v":0.65},{"g":"SEPT2","t":5,"v":0.85},{"g":"SEPT2","t":6,"v":0.55},{"g":"SEPT2","t":7,"v":1.0},{"g":"SEPT2","t":8,"v":0.6},
{"g":"AL133410.3","t":1,"v":-0.3},{"g":"AL133410.3","t":2,"v":-0.55},{"g":"AL133410.3","t":3,"v":-1.1},{"g":"AL133410.3","t":4,"v":-0.3},{"g":"AL133410.3","t":5,"v":-0.8},{"g":"AL133410.3","t":6,"v":0.5},{"g":"AL133410.3","t":7,"v":1.55},{"g":"AL133410.3","t":8,"v":1.2},
{"g":"SLTM","t":1,"v":0.1},{"g":"SLTM","t":2,"v":0.3},{"g":"SLTM","t":3,"v":-0.65},{"g":"SLTM","t":4,"v":-0.4},{"g":"SLTM","t":5,"v":-1.0},{"g":"SLTM","t":6,"v":-1.0},{"g":"SLTM","t":7,"v":1.25},{"g":"SLTM","t":8,"v":1.55},
{"g":"DNAJC4","t":1,"v":-1.1},{"g":"DNAJC4","t":2,"v":-0.75},{"g":"DNAJC4","t":3,"v":-0.8},{"g":"DNAJC4","t":4,"v":-0.1},{"g":"DNAJC4","t":5,"v":-0.1},{"g":"DNAJC4","t":6,"v":0.4},{"g":"DNAJC4","t":7,"v":1.25},{"g":"DNAJC4","t":8,"v":1.7},
{"g":"BAX","t":1,"v":-1.0},{"g":"BAX","t":2,"v":-1.55},{"g":"BAX","t":3,"v":0.3},{"g":"BAX","t":4,"v":-0.3},{"g":"BAX","t":5,"v":0.85},{"g":"BAX","t":6,"v":0.4},{"g":"BAX","t":7,"v":0.3},{"g":"BAX","t":8,"v":1.35},
{"g":"TMEM141","t":1,"v":-0.95},{"g":"TMEM141","t":2,"v":-1.2},{"g":"TMEM141","t":3,"v":-0.65},{"g":"TMEM141","t":4,"v":-0.65},{"g":"TMEM141","t":5,"v":1.1},{"g":"TMEM141","t":6,"v":0.65},{"g":"TMEM141","t":7,"v":1.1},{"g":"TMEM141","t":8,"v":0.95},
{"g":"NSMCE2","t":1,"v":-2},{"g":"NSMCE2","t":2,"v":-0.4},{"g":"NSMCE2","t":3,"v":0.5},{"g":"NSMCE2","t":4,"v":-0.1},{"g":"NSMCE2","t":5,"v":-0.1},{"g":"NSMCE2","t":6,"v":0.45},{"g":"NSMCE2","t":7,"v":0.7},{"g":"NSMCE2","t":8,"v":1.35},
{"g":"UROD","t":1,"v":0.3},{"g":"UROD","t":2,"v":0.65},{"g":"UROD","t":3,"v":-1.0},{"g":"UROD","t":4,"v":-0.9},{"g":"UROD","t":5,"v":-0.4},{"g":"UROD","t":6,"v":-0.75},{"g":"UROD","t":7,"v":0.7},{"g":"UROD","t":8,"v":1.9},
{"g":"CLNS1A","t":1,"v":-1.55},{"g":"CLNS1A","t":2,"v":-0.65},{"g":"CLNS1A","t":3,"v":-0.75},{"g":"CLNS1A","t":4,"v":-0.1},{"g":"CLNS1A","t":5,"v":0.5},{"g":"CLNS1A","t":6,"v":0.4},{"g":"CLNS1A","t":7,"v":1.35},{"g":"CLNS1A","t":8,"v":1.15},
{"g":"SVBP","t":1,"v":-2},{"g":"SVBP","t":2,"v":0},{"g":"SVBP","t":3,"v":-0.1},{"g":"SVBP","t":4,"v":0.55},{"g":"SVBP","t":5,"v":0.4},{"g":"SVBP","t":6,"v":0.2},{"g":"SVBP","t":7,"v":0.75},{"g":"SVBP","t":8,"v":0.85},
{"g":"RSRC2","t":1,"v":-0.55},{"g":"RSRC2","t":2,"v":-0.45},{"g":"RSRC2","t":3,"v":-0.9},{"g":"RSRC2","t":4,"v":-0.9},{"g":"RSRC2","t":5,"v":0.3},{"g":"RSRC2","t":6,"v":0.2},{"g":"RSRC2","t":7,"v":1.0},{"g":"RSRC2","t":8,"v":1.85},
{"g":"PRR13","t":1,"v":-1.4},{"g":"PRR13","t":2,"v":-1.45},{"g":"PRR13","t":3,"v":-0.3},{"g":"PRR13","t":4,"v":0.75},{"g":"PRR13","t":5,"v":0.6},{"g":"PRR13","t":6,"v":0.5},{"g":"PRR13","t":7,"v":0.5},{"g":"PRR13","t":8,"v":1.15},
{"g":"MED6","t":1,"v":-0.65},{"g":"MED6","t":2,"v":-0.65},{"g":"MED6","t":3,"v":-1.15},{"g":"MED6","t":4,"v":-0.65},{"g":"MED6","t":5,"v":0.5},{"g":"MED6","t":6,"v":0.5},{"g":"MED6","t":7,"v":0.8},{"g":"MED6","t":8,"v":1.8},
{"g":"STX4","t":1,"v":-1.0},{"g":"STX4","t":2,"v":-1.1},{"g":"STX4","t":3,"v":-1.0},{"g":"STX4","t":4,"v":0.55},{"g":"STX4","t":5,"v":0.02},{"g":"STX4","t":6,"v":0.5},{"g":"STX4","t":7,"v":0.85},{"g":"STX4","t":8,"v":1.55},
{"g":"DUSP12","t":1,"v":-1.55},{"g":"DUSP12","t":2,"v":-0.95},{"g":"DUSP12","t":3,"v":-0.1},{"g":"DUSP12","t":4,"v":-0.1},{"g":"DUSP12","t":5,"v":0.1},{"g":"DUSP12","t":6,"v":0.65},{"g":"DUSP12","t":7,"v":0.65},{"g":"DUSP12","t":8,"v":1.65},
{"g":"PRPF38A","t":1,"v":-0.1},{"g":"PRPF38A","t":2,"v":-0.55},{"g":"PRPF38A","t":3,"v":-1.15},{"g":"PRPF38A","t":4,"v":-0.45},{"g":"PRPF38A","t":5,"v":-0.35},{"g":"PRPF38A","t":6,"v":0.02},{"g":"PRPF38A","t":7,"v":1.9},{"g":"PRPF38A","t":8,"v":1.2},
{"g":"ZBTB8OS","t":1,"v":-0.7},{"g":"ZBTB8OS","t":2,"v":-0.8},{"g":"ZBTB8OS","t":3,"v":-1.1},{"g":"ZBTB8OS","t":4,"v":-0.2},{"g":"ZBTB8OS","t":5,"v":0.35},{"g":"ZBTB8OS","t":6,"v":0.02},{"g":"ZBTB8OS","t":7,"v":1.3},{"g":"ZBTB8OS","t":8,"v":1.6},
{"g":"TSTD1","t":1,"v":0.6},{"g":"TSTD1","t":2,"v":0.5},{"g":"TSTD1","t":3,"v":0.5},{"g":"TSTD1","t":4,"v":-1.25},{"g":"TSTD1","t":5,"v":-1.25},{"g":"TSTD1","t":6,"v":-0.45},{"g":"TSTD1","t":7,"v":0.2},{"g":"TSTD1","t":8,"v":1.6},
{"g":"CDC27","t":1,"v":0.35},{"g":"CDC27","t":2,"v":0.95},{"g":"CDC27","t":3,"v":-0.2},{"g":"CDC27","t":4,"v":-1.35},{"g":"CDC27","t":5,"v":-1.35},{"g":"CDC27","t":6,"v":0.75},{"g":"CDC27","t":7,"v":0.35},{"g":"CDC27","t":8,"v":1.2},
{"g":"SLC25A39","t":1,"v":-1.65},{"g":"SLC25A39","t":2,"v":-0.7},{"g":"SLC25A39","t":3,"v":-0.7},{"g":"SLC25A39","t":4,"v":0.5},{"g":"SLC25A39","t":5,"v":0.5},{"g":"SLC25A39","t":6,"v":0.5},{"g":"SLC25A39","t":7,"v":0.95},{"g":"SLC25A39","t":8,"v":1.25}]
},
"resolve":{"scale":{"x":"independent","y":"independent","color":"independent"},"axis":{"x":"independent","y":"independent"},"legend":{"color":"independent"}},
"layer":[
 {"encoding":{"x":{"field":"x","type":"quantitative","scale":{"domain":[-33,32.95],"range":[87.6,658],"nice":false,"zero":false},"axis":{"orient":"bottom","offset":-1305.5,"values":[-20,0,20],"title":null,"labelFontSize":18,"tickSize":4,"domainColor":"#222","tickColor":"#222","labelColor":"#333"}},
    "y":{"field":"y","type":"quantitative","scale":{"domain":[-0.225,4.746],"range":[557.5,78.3],"nice":false,"zero":false},"axis":{"orient":"left","offset":-87.6,"values":[0,1,2,3,4],"title":null,"labelFontSize":18,"tickSize":4,"domainColor":"#222","tickColor":"#222","labelColor":"#333"}}},
   "layer":[
    {"data":{"name":"alt"},"transform":[{"filter":"datum.y<1.3"}],"mark":{"type":"circle","size":6,"opacity":1},"encoding":{"color":{"datum":"Alternative 3' ss","scale":{"domain":["Alternative 3' ss","Cryptic 3' ss"],"range":["#bcbec0","#ed1c24"]},"legend":{"orient":"none","legendX":101.6,"legendY":94.3,"title":null,"symbolType":"square","symbolSize":225,"labelFontSize":14,"labelColor":"#231f20","rowPadding":3,"labelOffset":5}}}},
    {"data":{"name":"alt"},"transform":[{"filter":"datum.y>=1.3"}],"mark":{"type":"circle","size":14,"opacity":1},"encoding":{"color":{"datum":"Alternative 3' ss"}}},
    {"data":{"name":"cry"},"transform":[{"filter":"datum.y<1.3"}],"mark":{"type":"circle","size":6,"opacity":1},"encoding":{"color":{"datum":"Cryptic 3' ss"}}},
    {"data":{"name":"cry"},"transform":[{"filter":"datum.y>=1.3"}],"mark":{"type":"circle","size":18,"opacity":1},"encoding":{"color":{"datum":"Cryptic 3' ss"}}},
    {"data":{"values":[{"x":-2,"y":-0.225,"y2":4.746},{"x":2,"y":-0.225,"y2":4.746}]},"mark":{"type":"rule","color":"#222","strokeDash":[4,3],"strokeWidth":1},"encoding":{"y2":{"field":"y2"}}},
    {"data":{"values":[{"x":-33,"x2":32.95,"y":1.3}]},"mark":{"type":"rule","color":"#222","strokeDash":[4,3],"strokeWidth":1},"encoding":{"x2":{"field":"x2"}}},
    {"data":{"values":[{"x":-32,"x2":-3.5,"y":4.82},{"x":2.4,"x2":27.8,"y":4.82}]},"mark":{"type":"rule","color":"#231f20","strokeWidth":2},"encoding":{"x2":{"field":"x2"}}},
    {"data":{"values":[{"x":-32,"y":4.82}]},"mark":{"type":"point","shape":"triangle-left","filled":true,"size":60,"color":"#231f20","opacity":1},"encoding":{}},
    {"data":{"values":[{"x":27.8,"y":4.82}]},"mark":{"type":"point","shape":"triangle-right","filled":true,"size":60,"color":"#231f20","opacity":1},"encoding":{}},
    {"data":{"values":[{"x":11.38,"y":1.21,"x2":12.03,"y2":1.395},{"x":15.14,"y":1.366,"x2":15.54,"y2":1.456}]},"mark":{"type":"rule","color":"#111","strokeWidth":1},"encoding":{"x2":{"field":"x2"},"y2":{"field":"y2"}}},
    {"data":{"values":[{"x":6.67,"y":4.652,"t":"RSRC2"},{"x":2.5,"y":4.54,"t":"MRPS10"},{"x":9.47,"y":4.435,"t":"RPL22L1"},{"x":9.42,"y":3.08,"t":"TMEM242"},{"x":13.18,"y":2.85,"t":"MED6"},{"x":3.26,"y":2.585,"t":"MRPS18C"},{"x":16.9,"y":2.43,"t":"TRMT13"},{"x":7.07,"y":2.27,"t":"METTL5"},{"x":2.06,"y":2.11,"t":"NASP"},{"x":9.97,"y":2.076,"t":"SERBP1"},{"x":17.3,"y":2.03,"t":"OXA1L"},{"x":2.9,"y":1.924,"t":"NUCB2"},{"x":14.04,"y":1.776,"t":"AL133410.3"},{"x":2.4,"y":1.719,"t":"LMAN2"},{"x":8.72,"y":1.686,"t":"SLTM"},{"x":16.64,"y":1.604,"t":"HNRNPUL1"},{"x":5.56,"y":1.518,"t":"UROD"},{"x":10.38,"y":1.473,"t":"CCDC69"},{"x":4.06,"y":1.411,"t":"NPDC1"},{"x":18.3,"y":1.411,"t":"RIDA"},{"x":22.8,"y":1.436,"t":"SLC25A39"},{"x":12.68,"y":1.309,"t":"WDR45"},{"x":8.12,"y":1.145,"t":"ARFGAP2"}]},"mark":{"type":"text","align":"left","baseline":"middle","fontSize":11.5},"encoding":{"text":{"field":"t"}}},
    {"data":{"values":[{"x":8.22,"y":1.916,"t":"ERGIC3"}]},"mark":{"type":"text","align":"left","baseline":"middle","fontSize":16.7},"encoding":{"text":{"field":"t"}}},
    {"data":{"values":[{"x":-28.9,"y":4.123,"t":"(0-100 bp from Canonical 3' ss)"}]},"mark":{"type":"text","align":"left","baseline":"middle","fontSize":14},"encoding":{"text":{"field":"t"}}},
    {"data":{"values":[{"x":-43.3,"y":5.37,"t":"A."}]},"mark":{"type":"text","align":"left","baseline":"middle","fontSize":47},"encoding":{"text":{"field":"t"}}},
    {"data":{"values":[{"x":-25.9,"y":5.23,"t":"Differentially-spliced"},{"x":3.86,"y":5.23,"t":"Differentially-spliced"},{"x":-21,"y":4.964,"t":"in"},{"x":-8.72,"y":4.964,"t":"cells"},{"x":3.86,"y":4.964,"t":"in"},{"x":17.2,"y":4.964,"t":"cells"}]},"mark":{"type":"text","align":"left","baseline":"middle","fontSize":21.4},"encoding":{"text":{"field":"t"}}},
    {"data":{"values":[{"x":-18.3,"y":4.964,"t":"SF3B1"},{"x":6.52,"y":4.964,"t":"SF3B1"}]},"mark":{"type":"text","align":"left","baseline":"middle","fontSize":21.4,"fontStyle":"italic"},"encoding":{"text":{"field":"t"}}},
    {"data":{"values":[{"x":-10.78,"y":5.01,"t":"wt"},{"x":14.04,"y":5.01,"t":"mut"}]},"mark":{"type":"text","align":"left","baseline":"middle","fontSize":14,"fontStyle":"italic"},"encoding":{"text":{"field":"t"}}},
    {"data":{"values":[{"x":-2.1,"y":5.01,"t":"CH"}]},"mark":{"type":"text","align":"left","baseline":"middle","fontSize":23},"encoding":{"text":{"field":"t"}}},
    {"data":{"values":[{"x":-17.95,"y":-0.656,"t":"dPSI ("},{"x":4.1,"y":-0.656,"t":"-"},{"x":17.3,"y":-0.656,"t":")"}]},"mark":{"type":"text","align":"left","baseline":"middle","fontSize":26},"encoding":{"text":{"field":"t"}}},
    {"data":{"values":[{"x":-9.55,"y":-0.656,"t":"SF3B1"},{"x":6.0,"y":-0.656,"t":"SF3B1"}]},"mark":{"type":"text","align":"left","baseline":"middle","fontSize":26,"fontStyle":"italic"},"encoding":{"text":{"field":"t"}}},
    {"data":{"values":[{"x":0.05,"y":-0.57,"t":"mut"},{"x":15.3,"y":-0.57,"t":"wt"}]},"mark":{"type":"text","align":"left","baseline":"middle","fontSize":16,"fontStyle":"italic"},"encoding":{"text":{"field":"t"}}},
    {"data":{"values":[{"x":-38.1,"y":1.595,"t":"\u2212log"},{"x":-38.1,"y":2.32,"t":"("},{"x":-38.1,"y":2.594,"t":"-value)"}]},"mark":{"type":"text","align":"left","baseline":"middle","fontSize":26.5,"angle":270},"encoding":{"text":{"field":"t"}}},
    {"data":{"values":[{"x":-36.7,"y":2.122,"t":"10"}]},"mark":{"type":"text","align":"left","baseline":"middle","fontSize":17,"angle":270},"encoding":{"text":{"field":"t"}}},
    {"data":{"values":[{"x":-38.1,"y":2.41,"t":"P"}]},"mark":{"type":"text","align":"left","baseline":"middle","fontSize":26.5,"angle":270,"fontStyle":"italic"},"encoding":{"text":{"field":"t"}}}
   ]},
 {"encoding":{"x":{"field":"x","type":"quantitative","scale":{"domain":[0,1920],"range":[0,1920],"nice":false,"zero":false},"axis":null},"y":{"field":"y","type":"quantitative","scale":{"domain":[0,1863],"range":[0,1863],"nice":false,"zero":false},"axis":null}},
  "layer":[
   {"data":{"values":[{"x":757.5,"x2":775,"y":72.3,"y2":169.8},{"x":757.5,"x2":775,"y":197,"y2":294},{"x":757.5,"x2":775,"y":321,"y2":418.5}]},"mark":{"type":"rect","fill":"white","stroke":"#333","strokeWidth":1.5},"encoding":{"x2":{"field":"x2"},"y2":{"field":"y2"}}},
   {"data":{"values":[{"x":766,"y":121,"t":"All cells (Bulk)"},{"x":766,"y":245.5,"t":"WT cells"},{"x":766,"y":370,"t":"MUT cells"}]},"mark":{"type":"text","angle":270,"fontSize":10},"encoding":{"text":{"field":"t"}}}
  ]},
 {"encoding":{"x":{"field":"x","type":"quantitative","scale":{"domain":[35556200,35556400,35556800,35557000,35557115],"range":[821.8,967.3,1117,1260.3,1342.8],"nice":false,"zero":false},"axis":null},
   "y":{"field":"y","type":"quantitative","stack":null,"scale":{"domain":[-63.6,1283],"range":[169.8,72.3],"nice":false,"zero":false},"axis":{"orient":"left","offset":-821.8,"values":[0,400,800,1200],"format":"d","title":null,"labelFontSize":7.5,"labelColor":"#777","tickSize":3,"tickColor":"#777","domainColor":"#999"}}},
  "layer":[
   {"data":{"values":[{"s":"a","x":35556208,"y":1030},{"s":"a","x":35556212,"y":1060},{"s":"a","x":35556216,"y":1075},{"s":"a","x":35556220,"y":1040},{"s":"a","x":35556224,"y":1070},{"s":"a","x":35556228,"y":1080},{"s":"a","x":35556232,"y":1065},{"s":"a","x":35556236,"y":1085},{"s":"a","x":35556240,"y":1075},{"s":"a","x":35556244,"y":1090},{"s":"a","x":35556248,"y":1060},{"s":"a","x":35556252,"y":1080},{"s":"a","x":35556256,"y":1095},{"s":"a","x":35556260,"y":1075},{"s":"a","x":35556264,"y":1100},{"s":"a","x":35556268,"y":1085},{"s":"a","x":35556272,"y":1060},{"s":"a","x":35556274,"y":1095},{"s":"a","x":35556276,"y":15},{"s":"a","x":35556680,"y":15},
    {"s":"b","x":35556735,"y":15},{"s":"b","x":35556950,"y":130},{"s":"b","x":35556968,"y":1090},{"s":"b","x":35556973,"y":1075},{"s":"b","x":35556977,"y":1100},{"s":"b","x":35556981,"y":1085},{"s":"b","x":35556985,"y":1060},{"s":"b","x":35556989,"y":1115},{"s":"b","x":35556993,"y":1130},{"s":"b","x":35556997,"y":1120},{"s":"b","x":35557001,"y":1135},{"s":"b","x":35557005,"y":1125},{"s":"b","x":35557009,"y":1115},{"s":"b","x":35557013,"y":1130},{"s":"b","x":35557017,"y":1125},{"s":"b","x":35557021,"y":1090},{"s":"b","x":35557025,"y":1125},{"s":"b","x":35557029,"y":1135},{"s":"b","x":35557033,"y":1120},{"s":"b","x":35557037,"y":1130},{"s":"b","x":35557041,"y":1060},{"s":"b","x":35557044,"y":1125},{"s":"b","x":35557048,"y":1135},{"s":"b","x":35557052,"y":1070},{"s":"b","x":35557056,"y":1140},{"s":"b","x":35557060,"y":1130},{"s":"b","x":35557064,"y":1125},{"s":"b","x":35557068,"y":1145},{"s":"b","x":35557072,"y":1135},{"s":"b","x":35557076,"y":1130},{"s":"b","x":35557080,"y":1140},{"s":"b","x":35557084,"y":1145},{"s":"b","x":35557088,"y":1125},{"s":"b","x":35557092,"y":1135},{"s":"b","x":35557096,"y":1140},{"s":"b","x":35557100,"y":1110},{"s":"b","x":35557104,"y":1135},{"s":"b","x":35557109,"y":1135}]},"mark":{"type":"area","interpolate":"step-after","color":"#050505"},"encoding":{"detail":{"field":"s"}}},
   {"data":{"values":[{"x":35556285,"y":146},{"x":35556670,"y":1163},{"x":35556955,"y":146}]},"mark":{"type":"line","color":"#6d6e71","strokeWidth":1.2},"encoding":{}},
   {"data":{"values":[{"x":35556670,"y":1315,"t":"PSI = 9.5"}]},"mark":{"type":"text","fontSize":10,"fontWeight":"bold"},"encoding":{"text":{"field":"t"}}},
   {"data":{"values":[{"x":35556710,"y":1809,"t":"ERGIC3"}]},"mark":{"type":"text","fontSize":26.5,"fontStyle":"italic"},"encoding":{"text":{"field":"t"}}},
   {"data":{"values":[{"x":35556094,"y":2033,"t":"B."}]},"mark":{"type":"text","align":"left","fontSize":47},"encoding":{"text":{"field":"t"}}}
  ]},
 {"encoding":{"x":{"field":"x","type":"quantitative","scale":{"domain":[35556200,35556400,35556800,35557000,35557115],"range":[821.8,967.3,1117,1260.3,1342.8],"nice":false,"zero":false},"axis":null},
   "y":{"field":"y","type":"quantitative","stack":null,"scale":{"domain":[-10.9,329],"range":[294,197],"nice":false,"zero":false},"axis":{"orient":"left","offset":-821.8,"values":[0,100,200,300],"title":null,"labelFontSize":7.5,"labelColor":"#777","tickSize":3,"tickColor":"#777","domainColor":"#999"}}},
  "layer":[
   {"data":{"values":[{"s":"a","x":35556207,"y":262},{"s":"a","x":35556211,"y":270},{"s":"a","x":35556214,"y":255},{"s":"a","x":35556218,"y":268},{"s":"a","x":35556222,"y":272},{"s":"a","x":35556226,"y":262},{"s":"a","x":35556230,"y":274},{"s":"a","x":35556234,"y":270},{"s":"a","x":35556238,"y":276},{"s":"a","x":35556242,"y":272},{"s":"a","x":35556246,"y":278},{"s":"a","x":35556250,"y":275},{"s":"a","x":35556254,"y":280},{"s":"a","x":35556258,"y":278},{"s":"a","x":35556262,"y":284},{"s":"a","x":35556266,"y":270},{"s":"a","x":35556270,"y":284},{"s":"a","x":35556272,"y":4},{"s":"a","x":35556680,"y":5},
    {"s":"b","x":35556738,"y":3},{"s":"b","x":35556955,"y":15},{"s":"b","x":35556960,"y":20},{"s":"b","x":35556973,"y":280},{"s":"b","x":35556977,"y":270},{"s":"b","x":35556981,"y":282},{"s":"b","x":35556985,"y":272},{"s":"b","x":35556989,"y":285},{"s":"b","x":35556993,"y":288},{"s":"b","x":35556997,"y":284},{"s":"b","x":35557001,"y":272},{"s":"b","x":35557005,"y":288},{"s":"b","x":35557009,"y":290},{"s":"b","x":35557013,"y":282},{"s":"b","x":35557017,"y":288},{"s":"b","x":35557021,"y":290},{"s":"b","x":35557025,"y":262},{"s":"b","x":35557029,"y":290},{"s":"b","x":35557033,"y":286},{"s":"b","x":35557037,"y":292},{"s":"b","x":35557041,"y":265},{"s":"b","x":35557045,"y":288},{"s":"b","x":35557049,"y":292},{"s":"b","x":35557053,"y":284},{"s":"b","x":35557057,"y":292},{"s":"b","x":35557061,"y":260},{"s":"b","x":35557065,"y":294},{"s":"b","x":35557069,"y":290},{"s":"b","x":35557073,"y":295},{"s":"b","x":35557077,"y":292},{"s":"b","x":35557081,"y":296},{"s":"b","x":35557085,"y":288},{"s":"b","x":35557089,"y":295},{"s":"b","x":35557093,"y":296},{"s":"b","x":35557097,"y":288},{"s":"b","x":35557101,"y":282},{"s":"b","x":35557105,"y":290},{"s":"b","x":35557111,"y":290}]},"mark":{"type":"area","interpolate":"step-after","color":"#bcbdc0"},"encoding":{"detail":{"field":"s"}}},
   {"data":{"values":[{"x":35556284,"y":37},{"x":35556665,"y":296},{"x":35556955,"y":37}]},"mark":{"type":"line","color":"#6d6e71","strokeWidth":1.2},"encoding":{}},
   {"data":{"values":[{"x":35556665,"y":333.7,"t":"PSI = 6.0"}]},"mark":{"type":"text","fontSize":10,"fontWeight":"bold"},"encoding":{"text":{"field":"t"}}}
  ]},
 {"encoding":{"x":{"field":"x","type":"quantitative","scale":{"domain":[35556200,35556400,35556800,35557000,35557115],"range":[821.8,967.3,1117,1260.3,1342.8],"nice":false,"zero":false},"axis":null},
   "y":{"field":"y","type":"quantitative","stack":null,"scale":{"domain":[-7.8,147.7],"range":[418.5,321],"nice":false,"zero":false},"axis":{"orient":"left","offset":-821.8,"values":[0,50,100],"title":null,"labelFontSize":7.5,"labelColor":"#777","tickSize":3,"tickColor":"#777","domainColor":"#999"}}},
  "layer":[
   {"data":{"values":[{"s":"a","x":35556207,"y":122},{"s":"a","x":35556211,"y":126},{"s":"a","x":35556215,"y":128},{"s":"a","x":35556219,"y":127},{"s":"a","x":35556223,"y":115},{"s":"a","x":35556226,"y":128},{"s":"a","x":35556230,"y":124},{"s":"a","x":35556234,"y":126},{"s":"a","x":35556238,"y":120},{"s":"a","x":35556242,"y":127},{"s":"a","x":35556246,"y":122},{"s":"a","x":35556250,"y":128},{"s":"a","x":35556254,"y":125},{"s":"a","x":35556258,"y":127},{"s":"a","x":35556262,"y":123},{"s":"a","x":35556266,"y":120},{"s":"a","x":35556270,"y":127},{"s":"a","x":35556272,"y":0.5},{"s":"a","x":35556680,"y":0.5},
    {"s":"b","x":35556738,"y":0.5},{"s":"b","x":35556955,"y":25},{"s":"b","x":35556959,"y":22},{"s":"b","x":35556963,"y":30},{"s":"b","x":35556967,"y":27},{"s":"b","x":35556970,"y":31},{"s":"b","x":35556973,"y":125},{"s":"b","x":35556977,"y":128},{"s":"b","x":35556981,"y":124},{"s":"b","x":35556985,"y":130},{"s":"b","x":35556989,"y":127},{"s":"b","x":35556993,"y":132},{"s":"b","x":35556997,"y":128},{"s":"b","x":35557001,"y":131},{"s":"b","x":35557005,"y":125},{"s":"b","x":35557009,"y":130},{"s":"b","x":35557013,"y":120},{"s":"b","x":35557017,"y":132},{"s":"b","x":35557021,"y":128},{"s":"b","x":35557025,"y":122},{"s":"b","x":35557029,"y":133},{"s":"b","x":35557033,"y":130},{"s":"b","x":35557037,"y":134},{"s":"b","x":35557041,"y":118},{"s":"b","x":35557045,"y":132},{"s":"b","x":35557049,"y":135},{"s":"b","x":35557053,"y":128},{"s":"b","x":35557057,"y":134},{"s":"b","x":35557061,"y":116},{"s":"b","x":35557065,"y":133},{"s":"b","x":35557069,"y":130},{"s":"b","x":35557073,"y":134},{"s":"b","x":35557077,"y":128},{"s":"b","x":35557081,"y":135},{"s":"b","x":35557085,"y":131},{"s":"b","x":35557089,"y":136},{"s":"b","x":35557093,"y":124},{"s":"b","x":35557097,"y":133},{"s":"b","x":35557101,"y":128},{"s":"b","x":35557105,"y":134},{"s":"b","x":35557111,"y":134}]},"mark":{"type":"area","interpolate":"step-after","color":"#ee1f25"},"encoding":{"detail":{"field":"s"}}},
   {"data":{"values":[{"x":35556279,"y":13.2},{"x":35556655,"y":130.7},{"x":35556950,"y":42.9}]},"mark":{"type":"line","color":"#6d6e71","strokeWidth":1.2},"encoding":{}},
   {"data":{"values":[{"x":35556666,"y":155.7,"t":"PSI = 21.5"}]},"mark":{"type":"text","fontSize":10,"fontWeight":"bold"},"encoding":{"text":{"field":"t"}}}
  ]},
 {"encoding":{"x":{"field":"x","type":"quantitative","scale":{"domain":[35556200,35556400,35556800,35557000,35557115],"range":[821.8,967.3,1117,1260.3,1342.8],"nice":false,"zero":false},"axis":{"values":[35556200,35556400,35556800,35557000],"format":"d","title":null,"orient":"bottom","offset":-1423.7,"labelFlush":false,"labelFontSize":7.5,"labelColor":"#777","tickSize":3,"tickColor":"#777","domainColor":"#999","domainWidth":1.5}},
   "y":{"field":"y","type":"quantitative","scale":{"domain":[502.8,437.8],"range":[504.3,439.3],"nice":false,"zero":false},"axis":null}},
  "layer":[
   {"data":{"values":[{"x":35556187,"x2":35556645,"y":461},{"x":35556735,"x2":35556978,"y":461},{"x":35556187,"x2":35556645,"y":487.6},{"x":35556735,"x2":35556955,"y":487.6}]},"mark":{"type":"rule","color":"#252f7f","strokeWidth":2.4},"encoding":{"x2":{"field":"x2"}}},
   {"data":{"values":[{"x":35556208,"x2":35556273,"y":461},{"x":35556978,"x2":35557111,"y":461},{"x":35556208,"x2":35556273,"y":487.6},{"x":35556955,"x2":35557111,"y":487.6}]},"mark":{"type":"rule","color":"#252f7f","strokeWidth":15},"encoding":{"x2":{"field":"x2"}}},
   {"data":{"values":[{"x":35556514,"y":461},{"x":35556876,"y":461},{"x":35556388,"y":487.6},{"x":35556829,"y":487.6}]},"mark":{"type":"point","shape":"triangle-right","filled":true,"size":45,"color":"#252f7f","opacity":1},"encoding":{}},
   {"data":{"values":[{"x":35556641,"y":471,"x2":35556690,"y2":452.7},{"x":35556699,"y":471,"x2":35556742,"y2":452.7},{"x":35556641,"y":496.8,"x2":35556690,"y2":479.3},{"x":35556699,"y":496.8,"x2":35556742,"y2":479.3}]},"mark":{"type":"rule","color":"#252f7f","strokeWidth":2.2},"encoding":{"x2":{"field":"x2"},"y2":{"field":"y2"}}},
   {"data":{"values":[{"x":35556665,"y":445.1,"x2":35556713,"y2":426.9},{"x":35556721,"y":445.1,"x2":35556767,"y2":426.9}]},"mark":{"type":"rule","color":"#111","strokeWidth":1},"encoding":{"x2":{"field":"x2"},"y2":{"field":"y2"}}},
   {"data":{"values":[{"x":35557133,"y":457,"t":"Canonical"},{"x":35557133,"y":483.6,"t":"Cryptic Threeprime"}]},"mark":{"type":"text","align":"left","fontSize":10,"fontWeight":"bold"},"encoding":{"text":{"field":"t"}}},
   {"data":{"values":[{"x":35557133,"y":467,"t":"[chr20:35556271:35556972:+]"},{"x":35557133,"y":493.5,"t":"[chr20:35556271:35556954:+]"}]},"mark":{"type":"text","align":"left","fontSize":7.5,"color":"#444"},"encoding":{"text":{"field":"t"}}}
  ]},
 {"encoding":{"x":{"field":"x","type":"quantitative","scale":{"domain":[1442.8,1920],"range":[1442.8,1920],"nice":false,"zero":false},"axis":null},"y":{"field":"y","type":"quantitative","scale":{"domain":[372.3,72.3],"range":[372.3,72.3],"nice":false,"zero":false},"axis":null}},
   "layer":[
    {"data":{"values":[{"x":1608.7,"y":218.3}]},"mark":{"type":"circle","size":70437,"color":"#871b1e","opacity":1},"encoding":{}},
    {"data":{"values":[{"x":1732.3,"y":217.7}]},"mark":{"type":"circle","size":18934,"color":"#bfe7f1","opacity":1},"encoding":{}},
    {"data":{"values":[{"x":1663.4,"y":218,"y2":218},{"x":1665,"y":203.7,"y2":232.3},{"x":1668,"y":193.5,"y2":242.5},{"x":1673,"y":183.1,"y2":252.9},{"x":1680,"y":173.3,"y2":262.7},{"x":1690,"y":163.7,"y2":272.3},{"x":1700,"y":157.3,"y2":278.7},{"x":1710,"y":152.9,"y2":283.1},{"x":1718,"y":150.7,"y2":285.3},{"x":1722.3,"y":150,"y2":286},{"x":1726,"y":156,"y2":280},{"x":1730,"y":164.2,"y2":271.8},{"x":1735,"y":177.3,"y2":258.7},{"x":1739,"y":192.9,"y2":243.1},{"x":1741,"y":207.7,"y2":228.3},{"x":1741.6,"y":218,"y2":218}]},"mark":{"type":"area","color":"#e6f0f4","orient":"vertical"},"encoding":{"y2":{"field":"y2"}}},
    {"data":{"values":[{"x":1608.7,"y":218.3}]},"mark":{"type":"point","shape":"circle","size":70437,"color":"#333","strokeWidth":0.8,"opacity":1,"filled":false},"encoding":{}},
    {"data":{"values":[{"x":1732.3,"y":217.7}]},"mark":{"type":"point","shape":"circle","size":18934,"color":"#333","strokeWidth":0.8,"opacity":1,"filled":false},"encoding":{}},
    {"data":{"values":[{"x":1609,"y":219.3,"t":"205"}]},"mark":{"type":"text","fontSize":30,"color":"#eee"},"encoding":{"text":{"field":"t"}}},
    {"data":{"values":[{"x":1705,"y":219.3,"t":"34"}]},"mark":{"type":"text","fontSize":29,"fontWeight":"bold","color":"#ed1c24"},"encoding":{"text":{"field":"t"}}},
    {"data":{"values":[{"x":1768.3,"y":219.3,"t":"31"}]},"mark":{"type":"text","fontSize":30},"encoding":{"text":{"field":"t"}}},
    {"data":{"values":[{"x":1410,"y":21.7,"t":"C."}]},"mark":{"type":"text","align":"left","fontSize":47},"encoding":{"text":{"field":"t"}}},
    {"data":{"values":[{"x":1491.7,"y":34,"t":"MDS cryptic"},{"x":1491.7,"y":66.7,"t":"3\u2019 ss junctions"},{"x":1753.3,"y":316,"t":"CH cryptic"},{"x":1753.3,"y":348.3,"t":"3\u2019 ss junctions"}]},"mark":{"type":"text","align":"left","fontSize":27},"encoding":{"text":{"field":"t"}}},
    {"data":{"values":[{"x":1733.3,"y":121.7,"t":"P"}]},"mark":{"type":"text","align":"left","fontSize":18.5,"fontStyle":"italic"},"encoding":{"text":{"field":"t"}}},
    {"data":{"values":[{"x":1752.7,"y":121.7,"t":"<"},{"x":1771.7,"y":121.7,"t":"10"}]},"mark":{"type":"text","align":"left","fontSize":18.5},"encoding":{"text":{"field":"t"}}},
    {"data":{"values":[{"x":1793,"y":118,"t":"-16"}]},"mark":{"type":"text","align":"left","fontSize":11},"encoding":{"text":{"field":"t"}}}
   ]},
 {"encoding":{"x":{"field":"x","type":"quantitative","scale":{"domain":[107.5,714.7],"range":[107.5,714.7],"nice":false,"zero":false},"axis":null},"y":{"field":"y","type":"quantitative","scale":{"domain":[756,714.4],"range":[756,714.4],"nice":false,"zero":false},"axis":null}},
    "layer":[
     {"data":{"values":[{"x":114,"x2":320,"y":676.4,"y2":690.2}]},"mark":{"type":"rect","color":{"gradient":"linear","x1":0,"y1":0,"x2":1,"y2":0,"stops":[{"offset":0,"color":"#272c7a"},{"offset":0.52,"color":"#ffffff"},{"offset":1,"color":"#ed1c24"}]}},"encoding":{"x2":{"field":"x2"},"y2":{"field":"y2"}}},
     {"data":{"values":[{"x":399,"x2":420,"y":677.6,"y2":702.5}]},"mark":{"type":"rect","color":"#861b1e","stroke":"#222","strokeWidth":1},"encoding":{"x2":{"field":"x2"},"y2":{"field":"y2"}}},
     {"data":{"values":[{"x":107.5,"x2":714.2,"y":736.9,"y2":755.9}]},"mark":{"type":"rect","stroke":"#bdbdbd","strokeWidth":1.5,"color":{"gradient":"linear","x1":0,"y1":0,"x2":1,"y2":0,"stops":[{"offset":0,"color":"#3c5aa8"},{"offset":0.125,"color":"#6d4f9e"},{"offset":0.25,"color":"#7f4d9e"},{"offset":0.375,"color":"#a04d9b"},{"offset":0.5,"color":"#c0529a"},{"offset":0.625,"color":"#d66585"},{"offset":0.75,"color":"#e5796b"},{"offset":0.875,"color":"#f08f55"},{"offset":1,"color":"#faa72d"}]}},"encoding":{"x2":{"field":"x2"},"y2":{"field":"y2"}}},
     {"data":{"values":[{"x":182.7,"y":736.9,"y2":755.9},{"x":258.4,"y":736.9,"y2":755.9},{"x":334.6,"y":736.9,"y2":755.9},{"x":410.3,"y":736.9,"y2":755.9},{"x":486.6,"y":736.9,"y2":755.9},{"x":562.3,"y":736.9,"y2":755.9},{"x":638,"y":736.9,"y2":755.9}]},"mark":{"type":"rule","color":"#dddddd","strokeWidth":1.5},"encoding":{"y2":{"field":"y2"}}},
     {"data":{"values":[{"x":-1,"y":671.6,"t":"D."}]},"mark":{"type":"text","align":"left","fontSize":47},"encoding":{"text":{"field":"t"}}},
     {"data":{"values":[{"x":115,"y":664.5,"t":"(Low)"},{"x":281.4,"y":664.5,"t":"(High)"}]},"mark":{"type":"text","align":"left","fontSize":15},"encoding":{"text":{"field":"t"}}},
     {"data":{"values":[{"x":129,"y":701.3,"t":"PSI"},{"x":223,"y":701.3,"t":"cells (Z-score)"}]},"mark":{"type":"text","align":"left","fontSize":14.5},"encoding":{"text":{"field":"t"}}},
     {"data":{"values":[{"x":158.5,"y":701.3,"t":"SF3B1"}]},"mark":{"type":"text","align":"left","fontSize":14.5,"fontStyle":"italic"},"encoding":{"text":{"field":"t"}}},
     {"data":{"values":[{"x":204,"y":697,"t":"mut"}]},"mark":{"type":"text","align":"left","fontSize":9,"fontStyle":"italic"},"encoding":{"text":{"field":"t"}}},
     {"data":{"values":[{"x":429,"y":690.2,"t":"Differentially spliced in MDS"}]},"mark":{"type":"text","align":"left","fontSize":21.2},"encoding":{"text":{"field":"t"}}},
     {"data":{"values":[{"x":108,"y":724,"t":"(Low)"},{"x":668,"y":722,"t":"(High)"}]},"mark":{"type":"text","align":"left","fontSize":18},"encoding":{"text":{"field":"t"}}},
     {"data":{"values":[{"x":719,"y":746.8,"t":"Pseudotime"}]},"mark":{"type":"text","align":"left","fontSize":21},"encoding":{"text":{"field":"t"}}}
    ]},
 {"data":{"name":"heat"},"mark":{"type":"rect"},
     "encoding":{"x":{"field":"t","type":"ordinal","scale":{"range":[107.5,714.7],"paddingInner":0,"paddingOuter":0},"axis":null},
      "y":{"field":"g","type":"nominal","sort":null,"scale":{"range":[764.2,1771.9],"paddingInner":0,"paddingOuter":0},"axis":{"orient":"right","offset":-1205.3,"title":null,"domain":false,"ticks":false,"labelPadding":1,"labelOffset":-1,"labelFontSize":17,"labelColor":{"condition":{"test":"indexof(['AUP1','HPRT1','EIF4A2','AP2S1','TMEM216','CHTOP','CASP8','ERGIC3','WDR45','SERBP1','C17orf49','RPL22L1','METTL17','METTL5','TMEM59','DPH5','OXA1L','CHCHD7','SERBP1.1','AL133410.3','SLTM','DNAJC4','BAX','UROD','CLNS1A','PRR13','MED6','PRPF38A','CDC27'],datum.value)>=0","value":"#931c20"},"value":"#111111"},"labelFontWeight":{"condition":{"test":"datum.value==='BAX'","value":"bold"},"value":"normal"}}},
      "color":{"field":"v","type":"quantitative","scale":{"domain":[-2,0,2],"range":["#272c7a","#ffffff","#ed1c24"],"interpolate":"rgb"},"legend":null}}},
 {"encoding":{"x":{"field":"x","type":"quantitative","scale":{"domain":[107.5,714.7],"range":[107.5,714.7],"nice":false,"zero":false},"axis":null},"y":{"field":"y","type":"quantitative","scale":{"domain":[1855,1772],"range":[1855,1772],"nice":false,"zero":false},"axis":null}},
     "layer":[
      {"data":{"values":[{"x":108.6,"y":1800.4,"y2":1800.4},{"x":710.4,"y":1800.4,"y2":1850}]},"mark":{"type":"area","orient":"vertical","color":{"gradient":"linear","x1":0,"y1":0,"x2":1,"y2":0,"stops":[{"offset":0,"color":"#ffffff"},{"offset":0.2,"color":"#ffffff"},{"offset":1,"color":"#7a0c26"}]}},"encoding":{"y2":{"field":"y2"}}},
      {"data":{"values":[{"x":108.6,"y":1800.4},{"x":710.4,"y":1800.4}]},"mark":{"type":"line","color":"#222","strokeWidth":1.5},"encoding":{}},
      {"data":{"values":[{"x":108.6,"y":1800.4},{"x":200,"y":1807.9}]},"mark":{"type":"line","color":"#222","strokeWidth":0.6},"encoding":{}},
      {"data":{"values":[{"x":120.7,"y":1787.5,"t":"Early"},{"x":668,"y":1787.5,"t":"Late"}]},"mark":{"type":"text","align":"left","fontSize":18.5},"encoding":{"text":{"field":"t"}}},
      {"data":{"values":[{"x":335.7,"y":1855,"t":"Differentiation"}]},"mark":{"type":"text","align":"left","fontSize":21},"encoding":{"text":{"field":"t"}}}
     ]},
 {"encoding":{"x":{"field":"x","type":"quantitative","scale":{"domain":[0.3403,8.6036],"range":[1064,1654],"padding":0,"nice":false,"zero":false},"axis":null},
      "y":{"field":"y","type":"quantitative","scale":{"domain":[7.87,10.703],"range":[988,726.9],"nice":false,"zero":false},"axis":{"orient":"left","offset":-1068.5,"values":[8,9,10],"title":null,"labelFontSize":16,"labelColor":"#222","tickSize":3,"domainColor":"#111","tickColor":"#111"}}},
     "layer":[
      {"data":{"values":[{"x":1,"y":8.27},{"x":2,"y":8.18},{"x":3,"y":8.34},{"x":4,"y":8.6},{"x":5,"y":8.97},{"x":6,"y":9.53},{"x":7,"y":10.31},{"x":8,"y":10.45}]},"mark":{"type":"bar","orient":"vertical","width":64.4,"color":"#74a3cb","stroke":"#cfe0ee","strokeWidth":0.7},"encoding":{"y2":{"datum":8}}},
      {"data":{"values":[{"x":1,"y":8.263},{"x":2,"y":8.22},{"x":3,"y":8.32},{"x":4,"y":8.58},{"x":5,"y":9.02},{"x":6,"y":9.54},{"x":7,"y":10.06},{"x":8,"y":10.58}]},"mark":{"type":"line","interpolate":"monotone","color":"#5d1a57","strokeWidth":3,"strokeDash":[5,4]},"encoding":{}},
      {"data":{"values":[{"x":0.4033,"x2":8.595,"y":7.87}]},"mark":{"type":"rule","color":"#111","strokeWidth":1.3},"encoding":{"x2":{"field":"x2"}}},
      {"data":{"values":[{"x":0.522,"y":10.673,"t":"MDS"}]},"mark":{"type":"text","align":"left","fontSize":29.5},"encoding":{"text":{"field":"t"}}},
      {"data":{"values":[{"x":-1.86,"y":11.27,"t":"E."}]},"mark":{"type":"text","align":"left","fontSize":47},"encoding":{"text":{"field":"t"}}},
      {"data":{"values":[{"x":0.78,"y":11.54,"t":"BAX-\u03c9"}]},"mark":{"type":"text","align":"left","fontSize":32,"fontStyle":"italic"},"encoding":{"text":{"field":"t"}}},
      {"data":{"values":[{"x":2.33,"y":11.54,"t":": chr19:48960914:48961482:+"}]},"mark":{"type":"text","align":"left","fontSize":32},"encoding":{"text":{"field":"t"}}},
      {"data":{"values":[{"x":-0.276,"y":8.152,"t":"PSI"},{"x":-0.276,"y":9.935,"t":"cells"}]},"mark":{"type":"text","align":"left","fontSize":25,"angle":270},"encoding":{"text":{"field":"t"}}},
      {"data":{"values":[{"x":-0.276,"y":8.736,"t":"SF3B1"}]},"mark":{"type":"text","align":"left","fontSize":25,"angle":270,"fontStyle":"italic"},"encoding":{"text":{"field":"t"}}},
      {"data":{"values":[{"x":-0.35,"y":9.61,"t":"mut"}]},"mark":{"type":"text","align":"left","fontSize":14,"angle":270,"fontStyle":"italic"},"encoding":{"text":{"field":"t"}}}
     ]},
 {"data":{"values":[{"q":1,"c":"HSPC","o":1,"f":0.105},{"q":1,"c":"IMP","o":2,"f":0.105},{"q":1,"c":"MEP","o":3,"f":0.37},{"q":1,"c":"EP","o":4,"f":0.42},{"q":2,"c":"HSPC","o":1,"f":0.045},{"q":2,"c":"IMP","o":2,"f":0.075},{"q":2,"c":"MEP","o":3,"f":0.385},{"q":2,"c":"EP","o":4,"f":0.495},{"q":3,"c":"HSPC","o":1,"f":0.03},{"q":3,"c":"IMP","o":2,"f":0.03},{"q":3,"c":"MEP","o":3,"f":0.375},{"q":3,"c":"EP","o":4,"f":0.565},{"q":4,"c":"HSPC","o":1,"f":0.015},{"q":4,"c":"IMP","o":2,"f":0.025},{"q":4,"c":"MEP","o":3,"f":0.32},{"q":4,"c":"EP","o":4,"f":0.64},{"q":5,"c":"HSPC","o":1,"f":0.01},{"q":5,"c":"IMP","o":2,"f":0.01},{"q":5,"c":"MEP","o":3,"f":0.265},{"q":5,"c":"EP","o":4,"f":0.715},{"q":6,"c":"HSPC","o":1,"f":0.005},{"q":6,"c":"IMP","o":2,"f":0.005},{"q":6,"c":"MEP","o":3,"f":0.21},{"q":6,"c":"EP","o":4,"f":0.78},{"q":7,"c":"HSPC","o":1,"f":0.005},{"q":7,"c":"IMP","o":2,"f":0.005},{"q":7,"c":"MEP","o":3,"f":0.155},{"q":7,"c":"EP","o":4,"f":0.835},{"q":8,"c":"HSPC","o":1,"f":0.003},{"q":8,"c":"IMP","o":2,"f":0.002},{"q":8,"c":"MEP","o":3,"f":0.115},{"q":8,"c":"EP","o":4,"f":0.88}]},
     "mark":{"type":"bar","orient":"vertical","width":64.4},
     "encoding":{"x":{"field":"q","type":"quantitative","scale":{"domain":[0.3339,8.5558],"range":[1064,1654],"padding":0,"nice":false,"zero":false},"axis":null},
      "y":{"field":"f","type":"quantitative","stack":"zero","scale":{"domain":[0,1],"range":[1059,998.6],"nice":false},"axis":{"orient":"left","values":[0,0.25,0.5,0.75,1],"labelExpr":"''+datum.value","offset":-1072.4,"title":["Cell-type","fraction"],"titleAngle":0,"titleAlign":"right","titleBaseline":"middle","titleX":-32,"titleY":1025.6,"titleFontSize":18,"titleLineHeight":22,"labelFontSize":11.5,"labelColor":"#222","tickSize":3,"domainColor":"#111","tickColor":"#111"}},
      "order":{"field":"o"},
      "color":{"field":"c","type":"nominal","scale":{"domain":["EP","MEP","IMP","HSPC"],"range":["#951a45","#4f2a7a","#125f8e","#2e3a8f"]},"legend":{"orient":"none","legendX":1730,"legendY":1304,"title":"Cell-type","titleFontSize":25,"titleFontWeight":"normal","titlePadding":6,"labelFontSize":25,"labelColor":"#231f20","symbolType":"square","symbolSize":930,"symbolStrokeWidth":0,"rowPadding":2.5,"labelOffset":5}}}},
 {"encoding":{"x":{"field":"x","type":"quantitative","scale":{"domain":[0.383,8.752],"range":[1064,1654],"padding":0,"nice":false,"zero":false},"axis":null},
       "y":{"field":"y","type":"quantitative","scale":{"domain":[7.813,11.968],"range":[1348.7,1104.4],"nice":false,"zero":false},"axis":{"orient":"left","offset":-1065.3,"values":[8,9,10,11],"title":null,"labelFontSize":16,"labelColor":"#222","tickSize":3,"domainColor":"#888","tickColor":"#888"}}},
      "layer":[
       {"data":{"values":[{"x":1,"y":8.7},{"x":2,"y":8.18},{"x":3,"y":8.72},{"x":4,"y":9.02},{"x":5,"y":9.89},{"x":6,"y":10.31},{"x":7,"y":11.08},{"x":8,"y":11.78}]},"mark":{"type":"bar","orient":"vertical","width":63,"color":"#6a9bc5","stroke":"#cfe0ee","strokeWidth":0.7},"encoding":{"y2":{"datum":8}}},
       {"data":{"values":[{"x":1,"y":8.55},{"x":2,"y":8.48},{"x":3,"y":8.67},{"x":4,"y":9.14},{"x":5,"y":9.75},{"x":6,"y":10.36},{"x":7,"y":11.06},{"x":8,"y":11.78}]},"mark":{"type":"line","interpolate":"monotone","color":"#5d1a57","strokeWidth":3,"strokeDash":[5,4]},"encoding":{}},
       {"data":{"values":[{"x":0.4014,"x2":8.596,"y":7.813}]},"mark":{"type":"rule","color":"#666","strokeWidth":1.3},"encoding":{"x2":{"field":"x2"}}},
       {"data":{"values":[{"x":0.567,"y":11.87,"t":"MDS validation"}]},"mark":{"type":"text","align":"left","fontSize":29.5},"encoding":{"text":{"field":"t"}}},
       {"data":{"values":[{"x":-0.235,"y":8.046,"t":"PSI"},{"x":-0.235,"y":10.86,"t":"cells"}]},"mark":{"type":"text","align":"left","fontSize":25,"angle":270},"encoding":{"text":{"field":"t"}}},
       {"data":{"values":[{"x":-0.235,"y":8.92,"t":"SF3B1"}]},"mark":{"type":"text","align":"left","fontSize":25,"angle":270,"fontStyle":"italic"},"encoding":{"text":{"field":"t"}}},
       {"data":{"values":[{"x":-0.31,"y":10.29,"t":"mut"}]},"mark":{"type":"text","align":"left","fontSize":14,"angle":270,"fontStyle":"italic"},"encoding":{"text":{"field":"t"}}}
      ]},
 {"data":{"values":[{"q":1,"c":"HSPC","o":1,"f":0.19},{"q":1,"c":"IMP","o":2,"f":0.06},{"q":1,"c":"MEP","o":3,"f":0.71},{"q":1,"c":"EP","o":4,"f":0.04},{"q":2,"c":"HSPC","o":1,"f":0.095},{"q":2,"c":"IMP","o":2,"f":0.07},{"q":2,"c":"MEP","o":3,"f":0.715},{"q":2,"c":"EP","o":4,"f":0.12},{"q":3,"c":"HSPC","o":1,"f":0.04},{"q":3,"c":"IMP","o":2,"f":0.085},{"q":3,"c":"MEP","o":3,"f":0.7},{"q":3,"c":"EP","o":4,"f":0.175},{"q":4,"c":"HSPC","o":1,"f":0.03},{"q":4,"c":"IMP","o":2,"f":0.07},{"q":4,"c":"MEP","o":3,"f":0.65},{"q":4,"c":"EP","o":4,"f":0.25},{"q":5,"c":"HSPC","o":1,"f":0.025},{"q":5,"c":"IMP","o":2,"f":0.085},{"q":5,"c":"MEP","o":3,"f":0.545},{"q":5,"c":"EP","o":4,"f":0.345},{"q":6,"c":"HSPC","o":1,"f":0.015},{"q":6,"c":"IMP","o":2,"f":0.095},{"q":6,"c":"MEP","o":3,"f":0.47},{"q":6,"c":"EP","o":4,"f":0.42},{"q":7,"c":"HSPC","o":1,"f":0.015},{"q":7,"c":"IMP","o":2,"f":0.08},{"q":7,"c":"MEP","o":3,"f":0.385},{"q":7,"c":"EP","o":4,"f":0.52},{"q":8,"c":"HSPC","o":1,"f":0.015},{"q":8,"c":"IMP","o":2,"f":0.065},{"q":8,"c":"MEP","o":3,"f":0.315},{"q":8,"c":"EP","o":4,"f":0.605}]},
      "mark":{"type":"bar","orient":"vertical","width":63.5},
      "encoding":{"x":{"field":"q","type":"quantitative","scale":{"domain":[0.3847,8.7297],"range":[1064,1654],"padding":0,"nice":false,"zero":false},"axis":null},
       "y":{"field":"f","type":"quantitative","stack":"zero","scale":{"domain":[0,1],"range":[1417.6,1359.3],"nice":false},"axis":{"orient":"left","values":[0,0.25,0.5,0.75,1],"labelExpr":"''+datum.value","offset":-1071.8,"title":["Cell-type","fraction"],"titleAngle":0,"titleAlign":"right","titleBaseline":"middle","titleX":-31,"titleY":1383,"titleFontSize":18,"titleLineHeight":23,"labelFontSize":11.5,"labelColor":"#222","tickSize":3,"domainColor":"#111","tickColor":"#111"}},
       "order":{"field":"o"},
       "color":{"field":"c","type":"nominal","scale":{"domain":["EP","MEP","IMP","HSPC"],"range":["#951a45","#4f2a7a","#125f8e","#2e3a8f"]},"legend":null}}},
 {"encoding":{"x":{"field":"x","type":"quantitative","scale":{"domain":[0.4023,8.759],"range":[1064,1654],"padding":0,"nice":false,"zero":false},"axis":null},
       "y":{"field":"y","type":"quantitative","scale":{"domain":[3.822,7.21],"range":[1705.9,1460.3],"nice":false,"zero":false},"axis":{"orient":"left","offset":-1064,"values":[4,5,6,7],"title":null,"labelFontSize":16,"labelColor":"#222","tickSize":3,"domainColor":"#111","tickColor":"#111"}}},
      "layer":[
       {"data":{"values":[{"x":1,"y":5.3},{"x":2,"y":4.91},{"x":3,"y":6.3},{"x":4,"y":5.85},{"x":5,"y":6.64},{"x":6,"y":6.35},{"x":7,"y":6.28},{"x":8,"y":7.06}]},"mark":{"type":"bar","orient":"vertical","width":63.6,"color":"#74a3cb","stroke":"#cfe0ee","strokeWidth":0.7},"encoding":{"y2":{"datum":4}}},
       {"data":{"values":[{"x":1,"y":5.08},{"x":2,"y":5.49},{"x":3,"y":5.88},{"x":4,"y":6.22},{"x":5,"y":6.35},{"x":6,"y":6.42},{"x":7,"y":6.61},{"x":7.93,"y":6.85}]},"mark":{"type":"line","interpolate":"monotone","color":"#5d1a57","strokeWidth":3,"strokeDash":[5,4]},"encoding":{}},
       {"data":{"values":[{"x":0.4023,"x2":8.585,"y":3.822}]},"mark":{"type":"rule","color":"#111","strokeWidth":1.3},"encoding":{"x2":{"field":"x2"}}},
       {"data":{"values":[{"x":0.568,"y":7.084,"t":"CH"}]},"mark":{"type":"text","align":"left","fontSize":29.5},"encoding":{"text":{"field":"t"}}},
       {"data":{"values":[{"x":-0.216,"y":4.055,"t":"PSI"},{"x":-0.216,"y":6.36,"t":"cells"}]},"mark":{"type":"text","align":"left","fontSize":25,"angle":270},"encoding":{"text":{"field":"t"}}},
       {"data":{"values":[{"x":-0.216,"y":4.772,"t":"SF3B1"}]},"mark":{"type":"text","align":"left","fontSize":25,"angle":270,"fontStyle":"italic"},"encoding":{"text":{"field":"t"}}},
       {"data":{"values":[{"x":-0.29,"y":5.88,"t":"mut"}]},"mark":{"type":"text","align":"left","fontSize":14,"angle":270,"fontStyle":"italic"},"encoding":{"text":{"field":"t"}}}
      ]},
 {"data":{"values":[{"q":1,"c":"HSPC","o":1,"f":0.547},{"q":1,"c":"IMP","o":2,"f":0.422},{"q":1,"c":"MEP","o":3,"f":0.015},{"q":1,"c":"EP","o":4,"f":0.016},{"q":2,"c":"HSPC","o":1,"f":0.477},{"q":2,"c":"IMP","o":2,"f":0.443},{"q":2,"c":"MEP","o":3,"f":0.064},{"q":2,"c":"EP","o":4,"f":0.016},{"q":3,"c":"HSPC","o":1,"f":0.383},{"q":3,"c":"IMP","o":2,"f":0.461},{"q":3,"c":"MEP","o":3,"f":0.094},{"q":3,"c":"EP","o":4,"f":0.062},{"q":4,"c":"HSPC","o":1,"f":0.297},{"q":4,"c":"IMP","o":2,"f":0.445},{"q":4,"c":"MEP","o":3,"f":0.125},{"q":4,"c":"EP","o":4,"f":0.133},{"q":5,"c":"HSPC","o":1,"f":0.227},{"q":5,"c":"IMP","o":2,"f":0.421},{"q":5,"c":"MEP","o":3,"f":0.188},{"q":5,"c":"EP","o":4,"f":0.164},{"q":6,"c":"HSPC","o":1,"f":0.148},{"q":6,"c":"IMP","o":2,"f":0.399},{"q":6,"c":"MEP","o":3,"f":0.234},{"q":6,"c":"EP","o":4,"f":0.219},{"q":7,"c":"HSPC","o":1,"f":0.109},{"q":7,"c":"IMP","o":2,"f":0.352},{"q":7,"c":"MEP","o":3,"f":0.242},{"q":7,"c":"EP","o":4,"f":0.297},{"q":8,"c":"HSPC","o":1,"f":0.078},{"q":8,"c":"IMP","o":2,"f":0.281},{"q":8,"c":"MEP","o":3,"f":0.281},{"q":8,"c":"EP","o":4,"f":0.36}]},
      "mark":{"type":"bar","orient":"vertical","width":63.7},
      "encoding":{"x":{"field":"q","type":"quantitative","scale":{"domain":[0.4048,8.7268],"range":[1064,1654],"padding":0,"nice":false,"zero":false},"axis":null},
       "y":{"field":"f","type":"quantitative","stack":"zero","scale":{"domain":[0,1],"range":[1771.5,1712.8],"nice":false},"axis":{"orient":"left","values":[0,0.25,0.5,0.75,1],"labelExpr":"''+datum.value","offset":-1072.4,"title":["Cell-type","fraction"],"titleAngle":0,"titleAlign":"right","titleBaseline":"middle","titleX":-32,"titleY":1746.8,"titleFontSize":18,"titleLineHeight":22,"labelFontSize":11.5,"labelColor":"#222","tickSize":3,"domainColor":"#111","tickColor":"#111"}},
       "order":{"field":"o"},
       "color":{"field":"c","type":"nominal","scale":{"domain":["EP","MEP","IMP","HSPC"],"range":["#951a45","#4f2a7a","#125f8e","#2e3a8f"]},"legend":null}}}
]}
